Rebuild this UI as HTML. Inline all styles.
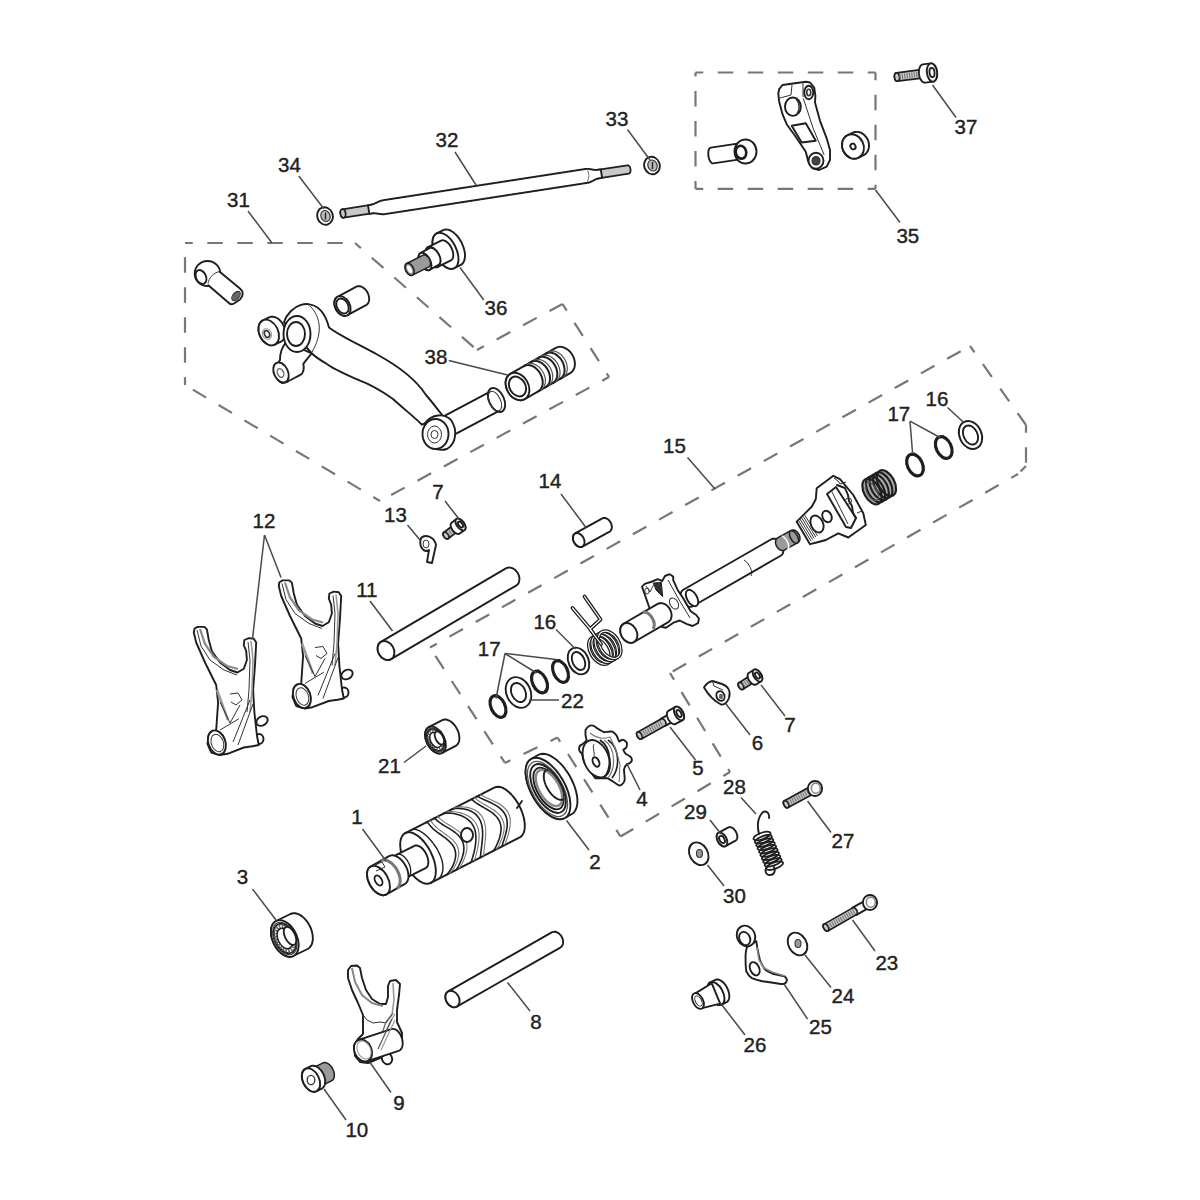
<!DOCTYPE html><html><head><meta charset="utf-8"><style>
html,body{margin:0;padding:0;background:#fff;}
svg{display:block;}
text{font-family:"Liberation Sans",sans-serif;font-size:20.5px;fill:#222;stroke:#222;stroke-width:0.4px;text-anchor:middle;}
.p{fill:#fff;stroke:#1e1e1e;stroke-width:1.9;stroke-linejoin:round;}
.l{fill:none;stroke:#1e1e1e;stroke-width:1.9;stroke-linejoin:round;stroke-linecap:round;}
.t{fill:none;stroke:#333;stroke-width:1;}
.g{fill:#9a9a9a;stroke:#1e1e1e;stroke-width:1.5;}
.g2{fill:#c8c8c8;stroke:#1e1e1e;stroke-width:1.7;}
.ld{stroke:#4a4a4a;stroke-width:1.5;}
.dash{stroke:#777;stroke-width:2.2;stroke-dasharray:15.5 14.5;stroke-dashoffset:7.7;}
</style></head><body><svg width="1200" height="1200" viewBox="0 0 1200 1200">
<line x1="695.5" y1="72.5" x2="875.5" y2="72.5" class="dash"/>
<line x1="875.5" y1="72.5" x2="875.5" y2="188.8" class="dash"/>
<line x1="875.5" y1="188.8" x2="695.5" y2="188.8" class="dash"/>
<line x1="695.5" y1="188.8" x2="695.5" y2="72.5" class="dash"/>
<line x1="185" y1="243" x2="355" y2="243" class="dash"/>
<line x1="355" y1="243" x2="477" y2="350" class="dash"/>
<line x1="477" y1="350" x2="562.5" y2="304" class="dash"/>
<line x1="562.5" y1="304" x2="609" y2="377" class="dash"/>
<line x1="609" y1="377" x2="380" y2="501" class="dash"/>
<line x1="380" y1="501" x2="185" y2="385" class="dash"/>
<line x1="185" y1="385" x2="185" y2="243" class="dash"/>
<line x1="430" y1="647.5" x2="970" y2="346" class="dash"/>
<line x1="970" y1="346" x2="1026" y2="425" class="dash"/>
<line x1="1026" y1="425" x2="1026" y2="466" class="dash"/>
<line x1="1026" y1="466" x2="1018" y2="474" class="dash"/>
<line x1="1018" y1="474" x2="670" y2="673" class="dash"/>
<line x1="670" y1="673" x2="730" y2="772" class="dash"/>
<line x1="730" y1="772" x2="620.5" y2="836.5" class="dash"/>
<line x1="620.5" y1="836.5" x2="557.5" y2="737.5" class="dash"/>
<line x1="557.5" y1="737.5" x2="505" y2="763" class="dash"/>
<line x1="505" y1="763" x2="430" y2="647.5" class="dash"/>
<ellipse cx="325" cy="216" rx="7.8" ry="8.8" transform="rotate(-20 325 216)" class="p"/>
<ellipse cx="325.5" cy="216" rx="4.6" ry="5.6" transform="rotate(-20 325.5 216)" fill="#bbb" stroke="#333" stroke-width="1.2"/>
<line x1="325.5" y1="212.5" x2="325.5" y2="219.5" stroke="#222" stroke-width="1.4"/>
<ellipse cx="652" cy="165.5" rx="7.8" ry="8.8" transform="rotate(-20 652 165.5)" class="p"/>
<ellipse cx="652.5" cy="165.5" rx="4.6" ry="5.6" transform="rotate(-20 652.5 165.5)" fill="#bbb" stroke="#333" stroke-width="1.2"/>
<line x1="652.5" y1="162.0" x2="652.5" y2="169.0" stroke="#222" stroke-width="1.4"/>
<polygon points="343.7,217.7 373.3,213.2 373.6,213.1 373.9,212.9 374.2,212.7 374.5,212.4 374.7,212.1 374.9,211.6 375.1,211.2 375.2,210.7 375.3,210.2 375.3,209.6 375.3,209.1 375.2,208.5 375.1,208 374.9,207.4 374.8,206.9 374.5,206.5 374.3,206 374,205.6 373.7,205.3 373.4,205 373,204.8 372.7,204.7 372.3,204.7 372,204.7 342.3,209.3 342,209.3 341.7,209.5 341.4,209.7 341.2,210 340.9,210.4 340.7,210.8 340.6,211.2 340.5,211.7 340.4,212.2 340.4,212.8 340.4,213.3 340.5,213.9 340.6,214.4 340.7,215 340.9,215.5 341.1,216 341.4,216.4 341.7,216.8 342,217.1 342.3,217.4 342.6,217.6 343,217.7 343.3,217.8 343.7,217.7" class="g2"/>
<ellipse cx="343" cy="213.5" rx="2.6" ry="4.3" transform="rotate(-8.8 343 213.5)" class="g2"/>
<polygon points="597,178.6 628.7,173.7 629,173.7 629.3,173.5 629.6,173.3 629.8,173 630.1,172.6 630.3,172.2 630.4,171.8 630.5,171.3 630.6,170.8 630.6,170.2 630.6,169.7 630.5,169.1 630.4,168.6 630.3,168 630.1,167.5 629.9,167 629.6,166.6 629.3,166.2 629,165.9 628.7,165.6 628.4,165.4 628,165.3 627.7,165.2 627.3,165.3 595.7,170.1 595.4,170.2 595.1,170.4 594.8,170.6 594.5,170.9 594.3,171.3 594.1,171.7 594,172.1 593.8,172.6 593.8,173.1 593.7,173.7 593.8,174.2 593.8,174.8 593.9,175.3 594.1,175.9 594.3,176.4 594.5,176.8 594.8,177.3 595,177.7 595.3,178 595.7,178.3 596,178.5 596.3,178.6 596.7,178.6 597,178.6" class="g2"/>
<polygon points="368,205.3 368.5,205.2 369,205.1 369.5,205.1 370,205 370.5,204.9 371,204.8 371.5,204.7 372,204.5 372.5,204.4 372.9,204.2 373.4,204.1 373.9,203.9 374.4,203.7 374.8,203.5 375.3,203.2 375.8,203 376.3,202.8 376.7,202.6 377.2,202.4 377.7,202.1 378.1,201.9 378.6,201.7 379.1,201.5 379.6,201.3 380,201.1 380.5,200.9 381,200.8 381.5,200.6 382,200.5 382.5,200.4 382.9,200.3 383.4,200.2 383.9,200.1 384.4,200 384.9,199.9 385.4,199.9 385.9,199.8 386.4,199.7 386.9,199.6 387.4,199.6 387.9,199.5 388.4,199.4 388.9,199.3 389.4,199.3 389.9,199.2 390.4,199.1 390.9,199 391.3,199 391.8,198.9 392.3,198.8 392.8,198.7 393.3,198.6 393.8,198.6 394.3,198.5 394.8,198.4 395.3,198.3 395.8,198.3 396.3,198.2 396.8,198.1 397.3,198 397.8,198 398.3,197.9 398.8,197.8 399.3,197.7 399.7,197.7 400.2,197.6 400.7,197.5 401.2,197.4 401.7,197.4 402.2,197.3 402.7,197.2 403.2,197.1 403.7,197 404.2,197 404.7,196.9 405.2,196.8 405.7,196.7 406.2,196.7 406.7,196.6 407.2,196.5 407.7,196.4 408.1,196.4 408.6,196.3 409.1,196.2 409.6,196.1 410.1,196.1 410.6,196 411.1,195.9 411.6,195.8 412.1,195.7 412.6,195.7 413.1,195.6 413.6,195.5 414.1,195.4 414.6,195.4 415.1,195.3 415.6,195.2 416.1,195.1 416.5,195.1 417,195 417.5,194.9 418,194.8 418.5,194.8 419,194.7 419.5,194.6 420,194.5 420.5,194.5 421,194.4 421.5,194.3 422,194.2 422.5,194.1 423,194.1 423.5,194 424,193.9 424.5,193.8 424.9,193.8 425.4,193.7 425.9,193.6 426.4,193.5 426.9,193.5 427.4,193.4 427.9,193.3 428.4,193.2 428.9,193.2 429.4,193.1 429.9,193 430.4,192.9 430.9,192.8 431.4,192.8 431.9,192.7 432.4,192.6 432.9,192.5 433.3,192.5 433.8,192.4 434.3,192.3 434.8,192.2 435.3,192.2 435.8,192.1 436.3,192 436.8,191.9 437.3,191.9 437.8,191.8 438.3,191.7 438.8,191.6 439.3,191.6 439.8,191.5 440.3,191.4 440.8,191.3 441.3,191.2 441.7,191.2 442.2,191.1 442.7,191 443.2,190.9 443.7,190.9 444.2,190.8 444.7,190.7 445.2,190.6 445.7,190.6 446.2,190.5 446.7,190.4 447.2,190.3 447.7,190.3 448.2,190.2 448.7,190.1 449.2,190 449.7,190 450.1,189.9 450.6,189.8 451.1,189.7 451.6,189.6 452.1,189.6 452.6,189.5 453.1,189.4 453.6,189.3 454.1,189.3 454.6,189.2 455.1,189.1 455.6,189 456.1,189 456.6,188.9 457.1,188.8 457.6,188.7 458.1,188.7 458.6,188.6 459,188.5 459.5,188.4 460,188.3 460.5,188.3 461,188.2 461.5,188.1 462,188 462.5,188 463,187.9 463.5,187.8 464,187.7 464.5,187.7 465,187.6 465.5,187.5 466,187.4 466.5,187.4 467,187.3 467.4,187.2 467.9,187.1 468.4,187.1 468.9,187 469.4,186.9 469.9,186.8 470.4,186.7 470.9,186.7 471.4,186.6 471.9,186.5 472.4,186.4 472.9,186.4 473.4,186.3 473.9,186.2 474.4,186.1 474.9,186.1 475.4,186 475.8,185.9 476.3,185.8 476.8,185.8 477.3,185.7 477.8,185.6 478.3,185.5 478.8,185.4 479.3,185.4 479.8,185.3 480.3,185.2 480.8,185.1 481.3,185.1 481.8,185 482.3,184.9 482.8,184.8 483.3,184.8 483.8,184.7 484.2,184.6 484.7,184.5 485.2,184.5 485.7,184.4 486.2,184.3 486.7,184.2 487.2,184.2 487.7,184.1 488.2,184 488.7,183.9 489.2,183.8 489.7,183.8 490.2,183.7 490.7,183.6 491.2,183.5 491.7,183.5 492.2,183.4 492.6,183.3 493.1,183.2 493.6,183.2 494.1,183.1 494.6,183 495.1,182.9 495.6,182.9 496.1,182.8 496.6,182.7 497.1,182.6 497.6,182.6 498.1,182.5 498.6,182.4 499.1,182.3 499.6,182.2 500.1,182.2 500.6,182.1 501,182 501.5,181.9 502,181.9 502.5,181.8 503,181.7 503.5,181.6 504,181.6 504.5,181.5 505,181.4 505.5,181.3 506,181.3 506.5,181.2 507,181.1 507.5,181 508,180.9 508.5,180.9 509,180.8 509.4,180.7 509.9,180.6 510.4,180.6 510.9,180.5 511.4,180.4 511.9,180.3 512.4,180.3 512.9,180.2 513.4,180.1 513.9,180 514.4,180 514.9,179.9 515.4,179.8 515.9,179.7 516.4,179.7 516.9,179.6 517.4,179.5 517.8,179.4 518.3,179.3 518.8,179.3 519.3,179.2 519.8,179.1 520.3,179 520.8,179 521.3,178.9 521.8,178.8 522.3,178.7 522.8,178.7 523.3,178.6 523.8,178.5 524.3,178.4 524.8,178.4 525.3,178.3 525.8,178.2 526.2,178.1 526.7,178 527.2,178 527.7,177.9 528.2,177.8 528.7,177.7 529.2,177.7 529.7,177.6 530.2,177.5 530.7,177.4 531.2,177.4 531.7,177.3 532.2,177.2 532.7,177.1 533.2,177.1 533.7,177 534.2,176.9 534.6,176.8 535.1,176.8 535.6,176.7 536.1,176.6 536.6,176.5 537.1,176.4 537.6,176.4 538.1,176.3 538.6,176.2 539.1,176.1 539.6,176.1 540.1,176 540.6,175.9 541.1,175.8 541.6,175.8 542.1,175.7 542.6,175.6 543,175.5 543.5,175.5 544,175.4 544.5,175.3 545,175.2 545.5,175.2 546,175.1 546.5,175 547,174.9 547.5,174.8 548,174.8 548.5,174.7 549,174.6 549.5,174.5 550,174.5 550.5,174.4 551,174.3 551.4,174.2 551.9,174.2 552.4,174.1 552.9,174 553.4,173.9 553.9,173.9 554.4,173.8 554.9,173.7 555.4,173.6 555.9,173.5 556.4,173.5 556.9,173.4 557.4,173.3 557.9,173.2 558.4,173.2 558.9,173.1 559.4,173 559.9,172.9 560.3,172.9 560.8,172.8 561.3,172.7 561.8,172.6 562.3,172.6 562.8,172.5 563.3,172.4 563.8,172.3 564.3,172.3 564.8,172.2 565.3,172.1 565.8,172 566.3,171.9 566.8,171.9 567.3,171.8 567.8,171.7 568.3,171.6 568.7,171.6 569.2,171.5 569.7,171.4 570.2,171.3 570.7,171.3 571.2,171.2 571.7,171.1 572.2,171 572.7,171 573.2,170.9 573.7,170.8 574.2,170.7 574.7,170.6 575.2,170.6 575.7,170.5 576.2,170.4 576.7,170.3 577.1,170.3 577.6,170.2 578.1,170.1 578.6,170 579.1,170 579.6,169.9 580.1,169.8 580.6,169.7 581.1,169.7 581.6,169.6 582.1,169.5 582.6,169.4 583.1,169.4 583.6,169.3 584.1,169.2 584.6,169.1 585.1,169 585.5,169 586,168.9 586.5,168.9 587,168.9 587.6,168.9 588.1,168.9 588.6,168.9 589.1,169 589.6,169.1 590.1,169.1 590.6,169.2 591.2,169.3 591.7,169.4 592.2,169.5 592.7,169.6 593.2,169.7 593.8,169.8 594.3,169.9 594.8,169.9 595.3,169.9 595.8,170 596.3,170 596.8,169.9 597.3,169.9 597.8,169.8 598.3,169.7 598.8,169.7 599.3,169.6 599.8,169.5 600.3,169.4 600.8,169.4 602.1,177.9 601.6,177.9 601.1,178 600.6,178.1 600.1,178.2 599.6,178.2 599.1,178.3 598.6,178.4 598.1,178.5 597.7,178.6 597.2,178.8 596.7,178.9 596.2,179.1 595.7,179.3 595.3,179.5 594.8,179.8 594.3,180 593.9,180.3 593.4,180.5 592.9,180.8 592.5,181 592,181.3 591.5,181.5 591.1,181.7 590.6,181.9 590.1,182.1 589.6,182.3 589.1,182.5 588.7,182.6 588.2,182.7 587.7,182.8 587.2,182.9 586.7,183 586.2,183 585.7,183.1 585.2,183.2 584.7,183.3 584.2,183.3 583.7,183.4 583.2,183.5 582.7,183.6 582.2,183.6 581.8,183.7 581.3,183.8 580.8,183.9 580.3,184 579.8,184 579.3,184.1 578.8,184.2 578.3,184.3 577.8,184.3 577.3,184.4 576.8,184.5 576.3,184.6 575.8,184.6 575.3,184.7 574.8,184.8 574.3,184.9 573.8,184.9 573.4,185 572.9,185.1 572.4,185.2 571.9,185.2 571.4,185.3 570.9,185.4 570.4,185.5 569.9,185.6 569.4,185.6 568.9,185.7 568.4,185.8 567.9,185.9 567.4,185.9 566.9,186 566.4,186.1 565.9,186.2 565.4,186.2 565,186.3 564.5,186.4 564,186.5 563.5,186.5 563,186.6 562.5,186.7 562,186.8 561.5,186.9 561,186.9 560.5,187 560,187.1 559.5,187.2 559,187.2 558.5,187.3 558,187.4 557.5,187.5 557,187.5 556.6,187.6 556.1,187.7 555.6,187.8 555.1,187.8 554.6,187.9 554.1,188 553.6,188.1 553.1,188.1 552.6,188.2 552.1,188.3 551.6,188.4 551.1,188.5 550.6,188.5 550.1,188.6 549.6,188.7 549.1,188.8 548.6,188.8 548.2,188.9 547.7,189 547.2,189.1 546.7,189.1 546.2,189.2 545.7,189.3 545.2,189.4 544.7,189.4 544.2,189.5 543.7,189.6 543.2,189.7 542.7,189.7 542.2,189.8 541.7,189.9 541.2,190 540.7,190.1 540.2,190.1 539.7,190.2 539.3,190.3 538.8,190.4 538.3,190.4 537.8,190.5 537.3,190.6 536.8,190.7 536.3,190.7 535.8,190.8 535.3,190.9 534.8,191 534.3,191 533.8,191.1 533.3,191.2 532.8,191.3 532.3,191.4 531.8,191.4 531.3,191.5 530.9,191.6 530.4,191.7 529.9,191.7 529.4,191.8 528.9,191.9 528.4,192 527.9,192 527.4,192.1 526.9,192.2 526.4,192.3 525.9,192.3 525.4,192.4 524.9,192.5 524.4,192.6 523.9,192.6 523.4,192.7 522.9,192.8 522.5,192.9 522,193 521.5,193 521,193.1 520.5,193.2 520,193.3 519.5,193.3 519,193.4 518.5,193.5 518,193.6 517.5,193.6 517,193.7 516.5,193.8 516,193.9 515.5,193.9 515,194 514.5,194.1 514.1,194.2 513.6,194.3 513.1,194.3 512.6,194.4 512.1,194.5 511.6,194.6 511.1,194.6 510.6,194.7 510.1,194.8 509.6,194.9 509.1,194.9 508.6,195 508.1,195.1 507.6,195.2 507.1,195.2 506.6,195.3 506.1,195.4 505.7,195.5 505.2,195.5 504.7,195.6 504.2,195.7 503.7,195.8 503.2,195.9 502.7,195.9 502.2,196 501.7,196.1 501.2,196.2 500.7,196.2 500.2,196.3 499.7,196.4 499.2,196.5 498.7,196.5 498.2,196.6 497.7,196.7 497.3,196.8 496.8,196.8 496.3,196.9 495.8,197 495.3,197.1 494.8,197.1 494.3,197.2 493.8,197.3 493.3,197.4 492.8,197.5 492.3,197.5 491.8,197.6 491.3,197.7 490.8,197.8 490.3,197.8 489.8,197.9 489.3,198 488.9,198.1 488.4,198.1 487.9,198.2 487.4,198.3 486.9,198.4 486.4,198.4 485.9,198.5 485.4,198.6 484.9,198.7 484.4,198.8 483.9,198.8 483.4,198.9 482.9,199 482.4,199.1 481.9,199.1 481.4,199.2 480.9,199.3 480.5,199.4 480,199.4 479.5,199.5 479,199.6 478.5,199.7 478,199.7 477.5,199.8 477,199.9 476.5,200 476,200 475.5,200.1 475,200.2 474.5,200.3 474,200.4 473.5,200.4 473,200.5 472.5,200.6 472.1,200.7 471.6,200.7 471.1,200.8 470.6,200.9 470.1,201 469.6,201 469.1,201.1 468.6,201.2 468.1,201.3 467.6,201.3 467.1,201.4 466.6,201.5 466.1,201.6 465.6,201.7 465.1,201.7 464.6,201.8 464.1,201.9 463.7,202 463.2,202 462.7,202.1 462.2,202.2 461.7,202.3 461.2,202.3 460.7,202.4 460.2,202.5 459.7,202.6 459.2,202.6 458.7,202.7 458.2,202.8 457.7,202.9 457.2,202.9 456.7,203 456.2,203.1 455.7,203.2 455.3,203.3 454.8,203.3 454.3,203.4 453.8,203.5 453.3,203.6 452.8,203.6 452.3,203.7 451.8,203.8 451.3,203.9 450.8,203.9 450.3,204 449.8,204.1 449.3,204.2 448.8,204.2 448.3,204.3 447.8,204.4 447.3,204.5 446.9,204.5 446.4,204.6 445.9,204.7 445.4,204.8 444.9,204.9 444.4,204.9 443.9,205 443.4,205.1 442.9,205.2 442.4,205.2 441.9,205.3 441.4,205.4 440.9,205.5 440.4,205.5 439.9,205.6 439.4,205.7 438.9,205.8 438.4,205.8 438,205.9 437.5,206 437,206.1 436.5,206.2 436,206.2 435.5,206.3 435,206.4 434.5,206.5 434,206.5 433.5,206.6 433,206.7 432.5,206.8 432,206.8 431.5,206.9 431,207 430.5,207.1 430,207.1 429.6,207.2 429.1,207.3 428.6,207.4 428.1,207.4 427.6,207.5 427.1,207.6 426.6,207.7 426.1,207.8 425.6,207.8 425.1,207.9 424.6,208 424.1,208.1 423.6,208.1 423.1,208.2 422.6,208.3 422.1,208.4 421.6,208.4 421.2,208.5 420.7,208.6 420.2,208.7 419.7,208.7 419.2,208.8 418.7,208.9 418.2,209 417.7,209.1 417.2,209.1 416.7,209.2 416.2,209.3 415.7,209.4 415.2,209.4 414.7,209.5 414.2,209.6 413.7,209.7 413.2,209.7 412.8,209.8 412.3,209.9 411.8,210 411.3,210 410.8,210.1 410.3,210.2 409.8,210.3 409.3,210.3 408.8,210.4 408.3,210.5 407.8,210.6 407.3,210.7 406.8,210.7 406.3,210.8 405.8,210.9 405.3,211 404.8,211 404.4,211.1 403.9,211.2 403.4,211.3 402.9,211.3 402.4,211.4 401.9,211.5 401.4,211.6 400.9,211.6 400.4,211.7 399.9,211.8 399.4,211.9 398.9,211.9 398.4,212 397.9,212.1 397.4,212.2 396.9,212.3 396.4,212.3 396,212.4 395.5,212.5 395,212.6 394.5,212.6 394,212.7 393.5,212.8 393,212.9 392.5,212.9 392,213 391.5,213.1 391,213.2 390.5,213.2 390,213.3 389.5,213.4 389,213.5 388.5,213.6 388,213.6 387.6,213.7 387.1,213.8 386.6,213.9 386.1,213.9 385.6,214 385.1,214.1 384.6,214.1 384.1,214.2 383.6,214.2 383.1,214.2 382.6,214.2 382.1,214.2 381.5,214.1 381,214.1 380.5,214 380,214 379.5,213.9 379,213.8 378.5,213.7 377.9,213.7 377.4,213.6 376.9,213.5 376.4,213.5 375.9,213.4 375.4,213.4 374.8,213.3 374.3,213.3 373.8,213.3 373.3,213.3 372.8,213.3 372.3,213.4 371.8,213.4 371.3,213.5 370.8,213.6 370.3,213.6 369.8,213.7 369.4,213.8" class="p"/>
<path d="M587.5,169.2 q3,6 0,13" class="t" style="stroke:#777"/>
<polygon points="740.8,143.1 710.8,147.6 710.4,147.7 709.9,148 709.5,148.4 709.2,148.9 708.9,149.5 708.6,150.3 708.5,151.1 708.3,152 708.3,153 708.3,154 708.3,155 708.4,156 708.6,157.1 708.9,158.1 709.2,159 709.5,159.9 709.9,160.7 710.3,161.5 710.8,162.1 711.2,162.6 711.7,163 712.2,163.3 712.7,163.4 713.2,163.4 743.2,158.9 743.6,158.8 744.1,158.5 744.5,158.1 744.8,157.6 745.1,157 745.4,156.2 745.5,155.4 745.7,154.5 745.7,153.5 745.7,152.5 745.7,151.5 745.6,150.5 745.4,149.4 745.1,148.4 744.8,147.5 744.5,146.6 744.1,145.8 743.7,145 743.2,144.4 742.8,143.9 742.3,143.5 741.8,143.2 741.3,143.1 740.8,143.1" class="p"/>
<ellipse cx="745.5" cy="151.5" rx="11" ry="12" class="p"/>
<ellipse cx="741" cy="152.2" rx="5.2" ry="6.5" transform="rotate(-15 741 152.2)" fill="#fff" stroke="#1e1e1e" stroke-width="2.6"/>
<polygon points="779.2,89.2 782.5,85 805.8,81.7 810,82.5 814.2,87.5 815.4,95.8 815,102.5 820,120.8 826.7,138.3 830,150 830,160 826.7,166.7 819.2,170 812.5,168.3 808.3,161.7 805.8,151.7 795,135.8 786.7,124.2 782.5,114.2 779.2,101.7 778.3,93.3" class="p"/>
<ellipse cx="792.9" cy="106.7" rx="7.9" ry="9.2" class="p"/>
<path d="M796,99 C800,103 800,110 797,114" class="t" style="stroke-width:1.5"/>
<ellipse cx="808.75" cy="92.5" rx="4.5" ry="6.7" class="p"/>
<ellipse cx="808.75" cy="92.5" rx="2" ry="3.2" class="t" style="stroke-width:1.6"/>
<polygon points="791.7,125.8 805.8,123.3 815.8,140.8 801.7,142.5" class="p"/>
<polyline points="803.3,98.3 813,128 824.2,155" class="t"/>
<polyline points="780,98 791,95 792,85" class="t"/>
<polyline points="803,82 803,97" class="t"/>
<ellipse cx="816" cy="160.8" rx="7.5" ry="8" class="p"/>
<ellipse cx="816" cy="160.8" rx="4" ry="4.2" fill="#444" stroke="#1e1e1e" stroke-width="1"/>
<polygon points="858.6,157.7 863.6,155.2 864.8,154.5 865.9,153.6 866.8,152.5 867.6,151.3 868.2,150 868.7,148.5 868.9,147 869,145.5 868.9,143.9 868.6,142.3 868.2,140.7 867.5,139.2 866.7,137.8 865.7,136.5 864.6,135.3 863.4,134.3 862.1,133.4 860.8,132.7 859.4,132.2 857.9,131.9 856.5,131.9 855.1,132 853.7,132.3 852.4,132.8 847.4,135.3 846.2,136 845.1,136.9 844.2,138 843.4,139.2 842.8,140.5 842.3,142 842.1,143.5 842,145 842.1,146.6 842.4,148.2 842.8,149.8 843.5,151.3 844.3,152.7 845.3,154 846.4,155.2 847.6,156.2 848.9,157.1 850.2,157.8 851.6,158.3 853.1,158.6 854.5,158.6 855.9,158.5 857.3,158.2 858.6,157.7" class="p"/>
<ellipse cx="853" cy="146.5" rx="10.6" ry="12.5" transform="rotate(-26.6 853 146.5)" class="p" />
<ellipse cx="853" cy="146.5" rx="2.5" ry="3" transform="rotate(-26.6 853 146.5)" class="p" />
<polygon points="897.5,81.2 928,77.3 928.3,77.2 928.6,77 928.9,76.8 929.2,76.5 929.4,76.2 929.6,75.8 929.7,75.4 929.9,74.9 930,74.4 930,73.9 930,73.3 929.9,72.8 929.8,72.2 929.7,71.7 929.5,71.2 929.3,70.7 929.1,70.3 928.8,69.9 928.5,69.6 928.2,69.3 927.9,69.1 927.6,69 927.2,68.9 926.9,68.9 896.5,72.8 896.1,72.9 895.8,73.1 895.5,73.3 895.3,73.6 895.1,73.9 894.9,74.3 894.7,74.7 894.6,75.2 894.5,75.7 894.4,76.2 894.5,76.8 894.5,77.3 894.6,77.9 894.7,78.4 894.9,78.9 895.1,79.4 895.3,79.8 895.6,80.2 895.9,80.5 896.2,80.8 896.5,81 896.9,81.1 897.2,81.2 897.5,81.2" class="g2"/>
<ellipse cx="897" cy="77" rx="2.5" ry="4.2" transform="rotate(-7.3 897 77)" class="g2" />
<line x1="899.5" y1="76.7" x2="926.9" y2="73.2" stroke="#777" stroke-width="5.5" stroke-dasharray="1.1 1.3"/>
<polygon points="930.8,63.4 922.9,64.4 922.2,64.6 921.6,64.9 921.1,65.3 920.5,65.9 920.1,66.7 919.7,67.5 919.4,68.5 919.1,69.5 919,70.6 918.9,71.8 918.9,73 919,74.2 919.2,75.4 919.5,76.5 919.9,77.6 920.3,78.6 920.8,79.6 921.3,80.4 921.9,81.2 922.6,81.7 923.2,82.2 923.9,82.5 924.6,82.7 925.2,82.6 933.2,81.6 933.8,81.5 934.4,81.1 935,80.7 935.5,80.1 936,79.3 936.4,78.5 936.7,77.5 936.9,76.5 937.1,75.4 937.2,74.2 937.1,73.1 937,71.9 936.8,70.7 936.5,69.5 936.2,68.4 935.8,67.4 935.3,66.4 934.7,65.6 934.1,64.9 933.5,64.3 932.8,63.8 932.2,63.5 931.5,63.4 930.8,63.4" class="p"/>
<ellipse cx="932" cy="72.5" rx="5.1" ry="9.2" transform="rotate(172.7 932 72.5)" class="p" />
<ellipse cx="932" cy="72.5" rx="2.5" ry="4.6" transform="rotate(172.7 932 72.5)" class="p" />
<ellipse cx="207.5" cy="273.5" rx="12.8" ry="12.5" class="p"/>
<path d="M219.7,271.8 L240.5,289 C244,292 243,296 240,299.5 L234,303.5 C232,304.5 230.5,304.5 229.5,303.5 L208.3,285.3 C212,281 215,276 219.7,271.8 Z" fill="#fff"/>
<path d="M219.7,271.8 L240.5,289 C244,292 243,296 240,299.5 L234,303.5 C232,304.5 230.5,304.5 229.5,303.5 L208.3,285.3" class="l"/>
<ellipse cx="236" cy="296" rx="3.2" ry="5.5" transform="rotate(40 236 296)" fill="#666" stroke="#333" stroke-width="1"/>
<ellipse cx="201" cy="277" rx="5" ry="7.3" transform="rotate(-25 201 277)" class="p"/>
<path d="M208,283.5 C209,278 213,273 219.5,271.5" class="t"/>
<polygon points="347.5,315.2 366,305.2 366.8,304.7 367.5,304 368.1,303.2 368.6,302.3 368.9,301.2 369.1,300.1 369.2,298.9 369.1,297.6 368.9,296.3 368.5,295 368.1,293.7 367.5,292.5 366.8,291.3 366,290.2 365.1,289.2 364.1,288.4 363.1,287.6 362,287 361,286.5 359.9,286.3 358.9,286.1 357.9,286.2 356.9,286.4 356,286.8 337.5,296.8 336.7,297.3 336,298 335.4,298.8 334.9,299.7 334.6,300.8 334.4,301.9 334.3,303.1 334.4,304.4 334.6,305.7 335,307 335.4,308.3 336,309.5 336.7,310.7 337.5,311.8 338.4,312.8 339.4,313.6 340.4,314.4 341.5,315 342.5,315.5 343.6,315.7 344.6,315.9 345.6,315.8 346.6,315.6 347.5,315.2" class="p"/>
<ellipse cx="342.5" cy="306" rx="7.3" ry="10.5" transform="rotate(-28.4 342.5 306)" class="p" />
<ellipse cx="342.5" cy="306" rx="5.6" ry="8" transform="rotate(-28.4 342.5 306)" class="p" />
<polygon points="454.3,268.2 460.8,264.9 462,264.1 463,263 463.8,261.7 464.4,260.1 464.8,258.3 465,256.4 465,254.2 464.7,252 464.2,249.7 463.5,247.3 462.6,245 461.6,242.6 460.3,240.4 459,238.3 457.5,236.4 455.9,234.6 454.2,233.1 452.5,231.8 450.8,230.7 449.1,230 447.5,229.6 445.9,229.4 444.5,229.6 443.2,230.1 436.7,233.4 435.5,234.2 434.5,235.3 433.7,236.6 433.1,238.2 432.7,240 432.5,241.9 432.5,244.1 432.8,246.3 433.3,248.6 434,251 434.9,253.3 435.9,255.7 437.2,257.9 438.5,260 440,261.9 441.6,263.7 443.3,265.2 445,266.5 446.7,267.6 448.4,268.3 450,268.7 451.6,268.9 453,268.7 454.3,268.2" class="p"/>
<ellipse cx="445.5" cy="250.8" rx="10.7" ry="19.5" transform="rotate(-26.9 445.5 250.8)" class="p" />
<polygon points="437.9,266.8 450.9,260.3 451.6,259.9 452.2,259.3 452.6,258.6 453,257.7 453.2,256.7 453.3,255.5 453.3,254.3 453.1,253.1 452.9,251.8 452.5,250.4 452,249.1 451.4,247.8 450.7,246.5 450,245.3 449.1,244.2 448.2,243.2 447.3,242.4 446.3,241.6 445.4,241 444.4,240.6 443.5,240.4 442.6,240.3 441.8,240.4 441.1,240.7 428.1,247.2 427.4,247.6 426.8,248.2 426.4,248.9 426,249.8 425.8,250.8 425.7,252 425.7,253.2 425.9,254.4 426.1,255.7 426.5,257.1 427,258.4 427.6,259.7 428.3,261 429,262.2 429.9,263.3 430.8,264.3 431.7,265.1 432.7,265.9 433.6,266.5 434.6,266.9 435.5,267.1 436.4,267.2 437.2,267.1 437.9,266.8" class="p"/>
<ellipse cx="433" cy="257" rx="6.1" ry="11" transform="rotate(-26.6 433 257)" class="p" />
<polygon points="429.6,269.8 438.6,264.8 439.2,264.4 439.6,263.9 440,263.2 440.3,262.4 440.4,261.5 440.5,260.6 440.4,259.5 440.3,258.5 440,257.3 439.6,256.2 439.1,255.1 438.6,254 437.9,252.9 437.2,251.9 436.5,251 435.6,250.2 434.8,249.4 434,248.8 433.1,248.4 432.3,248 431.5,247.9 430.7,247.8 430,247.9 429.4,248.2 420.4,253.2 419.8,253.6 419.4,254.1 419,254.8 418.7,255.6 418.6,256.5 418.5,257.4 418.6,258.5 418.7,259.5 419,260.7 419.4,261.8 419.9,262.9 420.4,264 421.1,265.1 421.8,266.1 422.5,267 423.4,267.8 424.2,268.6 425,269.2 425.9,269.6 426.7,270 427.5,270.1 428.3,270.2 429,270.1 429.6,269.8" class="p"/>
<ellipse cx="425" cy="261.5" rx="5.2" ry="9.5" transform="rotate(-29.1 425 261.5)" class="p" />
<polygon points="412.5,275.1 428.9,266.8 429.4,266.5 429.7,266.1 430,265.7 430.3,265.1 430.4,264.5 430.5,263.9 430.5,263.1 430.5,262.4 430.3,261.6 430.1,260.8 429.8,260 429.5,259.2 429.1,258.5 428.6,257.8 428.1,257.2 427.5,256.6 427,256.1 426.4,255.7 425.8,255.3 425.2,255.1 424.6,255 424.1,254.9 423.5,255 423.1,255.2 406.7,263.5 406.2,263.8 405.9,264.2 405.6,264.6 405.3,265.2 405.2,265.8 405.1,266.4 405.1,267.2 405.1,267.9 405.3,268.7 405.5,269.5 405.8,270.3 406.1,271.1 406.5,271.8 407,272.5 407.5,273.1 408.1,273.7 408.6,274.2 409.2,274.6 409.8,275 410.4,275.2 411,275.3 411.5,275.4 412.1,275.3 412.5,275.1" class="g"/>
<ellipse cx="409.6" cy="269.3" rx="3.9" ry="6.5" transform="rotate(-26.8 409.6 269.3)" class="g" />
<ellipse cx="409.6" cy="269.3" rx="2" ry="4" transform="rotate(-27 409.6 269.3)" fill="#fff"/>
<polygon points="524.7,399.1 570.2,373.1 571.4,372.3 572.4,371.3 573.3,370.1 574,368.7 574.5,367.2 574.8,365.6 574.9,363.9 574.8,362.1 574.5,360.3 574,358.5 573.3,356.8 572.4,355.1 571.4,353.5 570.3,352 569,350.7 567.6,349.5 566.1,348.6 564.6,347.8 563,347.2 561.5,346.9 560,346.8 558.5,346.9 557.1,347.3 555.8,347.9 510.3,373.9 509.1,374.7 508.1,375.7 507.2,376.9 506.5,378.3 506,379.8 505.7,381.4 505.6,383.1 505.7,384.9 506,386.7 506.5,388.5 507.2,390.2 508.1,391.9 509.1,393.5 510.2,395 511.5,396.3 512.9,397.5 514.4,398.4 515.9,399.2 517.5,399.8 519,400.1 520.5,400.2 522,400.1 523.4,399.7 524.7,399.1" class="p"/>
<ellipse cx="517.5" cy="386.5" rx="10.9" ry="14.5" transform="rotate(-29.7 517.5 386.5)" class="p" />
<ellipse cx="517.5" cy="386.5" rx="7.9" ry="10.5" transform="rotate(-29.7 517.5 386.5)" class="p" />
<polyline points="538.3,391.3 539.3,390.7 540.1,389.9 540.8,389.1 541.4,388.1 541.9,387 542.3,385.8 542.6,384.6 542.7,383.3 542.7,381.9 542.6,380.5 542.4,379.1 542,377.7 541.5,376.3 540.9,374.9 540.2,373.5 539.4,372.2 538.5,371 537.5,369.9 536.5,368.8 535.4,367.9 534.3,367.1 533.1,366.4 531.9,365.9 530.7,365.5 529.5,365.2 528.3,365.1 527.1,365.1 526,365.3 524.9,365.6 524,366.1" class="l" style="stroke-width:2"/>
<polyline points="541.1,389.7 542,389.1 542.8,388.4 543.5,387.5 544.1,386.5 544.6,385.5 545,384.3 545.3,383 545.4,381.7 545.4,380.3 545.3,378.9 545.1,377.5 544.7,376.1 544.2,374.7 543.6,373.3 542.9,372 542.1,370.7 541.3,369.5 540.3,368.3 539.2,367.3 538.1,366.4 537,365.5 535.8,364.9 534.6,364.3 533.4,363.9 532.2,363.6 531,363.5 529.8,363.6 528.7,363.7 527.7,364.1 526.7,364.6" class="t" style="stroke-width:1.2;stroke:#555"/>
<polyline points="545.6,387.1 546.5,386.5 547.4,385.8 548.1,384.9 548.7,383.9 549.2,382.9 549.6,381.7 549.8,380.4 550,379.1 550,377.7 549.9,376.3 549.6,374.9 549.3,373.5 548.8,372.1 548.2,370.7 547.5,369.4 546.7,368.1 545.8,366.9 544.8,365.7 543.8,364.7 542.7,363.8 541.5,362.9 540.4,362.3 539.1,361.7 537.9,361.3 536.7,361 535.5,360.9 534.4,361 533.3,361.1 532.2,361.5 531.2,362" class="l" style="stroke-width:2"/>
<polyline points="548.4,385.6 549.3,385 550.1,384.2 550.8,383.4 551.4,382.4 551.9,381.3 552.3,380.1 552.6,378.9 552.7,377.6 552.7,376.2 552.6,374.8 552.4,373.4 552,371.9 551.5,370.5 550.9,369.1 550.2,367.8 549.4,366.5 548.5,365.3 547.6,364.2 546.5,363.1 545.4,362.2 544.3,361.4 543.1,360.7 541.9,360.2 540.7,359.8 539.5,359.5 538.3,359.4 537.1,359.4 536,359.6 535,359.9 534,360.4" class="t" style="stroke-width:1.2;stroke:#555"/>
<polyline points="552.9,383 553.8,382.4 554.6,381.6 555.4,380.8 556,379.8 556.5,378.7 556.9,377.5 557.1,376.3 557.3,375 557.3,373.6 557.2,372.2 556.9,370.8 556.6,369.3 556.1,367.9 555.5,366.5 554.8,365.2 554,363.9 553.1,362.7 552.1,361.6 551.1,360.5 550,359.6 548.8,358.8 547.6,358.1 546.4,357.6 545.2,357.2 544,356.9 542.8,356.8 541.7,356.8 540.6,357 539.5,357.3 538.5,357.8" class="l" style="stroke-width:2"/>
<polyline points="555.6,381.4 556.5,380.8 557.4,380.1 558.1,379.2 558.7,378.2 559.2,377.1 559.6,376 559.9,374.7 560,373.4 560,372 559.9,370.6 559.6,369.2 559.3,367.8 558.8,366.4 558.2,365 557.5,363.6 556.7,362.4 555.8,361.1 554.8,360 553.8,359 552.7,358 551.5,357.2 550.4,356.5 549.2,356 547.9,355.6 546.7,355.3 545.6,355.2 544.4,355.2 543.3,355.4 542.2,355.8 541.2,356.2" class="t" style="stroke-width:1.2;stroke:#555"/>
<polyline points="560.2,378.8 561.1,378.2 561.9,377.5 562.6,376.6 563.2,375.6 563.8,374.5 564.1,373.4 564.4,372.1 564.5,370.8 564.6,369.4 564.4,368 564.2,366.6 563.8,365.2 563.4,363.8 562.8,362.4 562.1,361 561.3,359.8 560.4,358.5 559.4,357.4 558.3,356.4 557.2,355.4 556.1,354.6 554.9,353.9 553.7,353.4 552.5,353 551.3,352.7 550.1,352.6 548.9,352.6 547.8,352.8 546.8,353.2 545.8,353.6" class="l" style="stroke-width:2"/>
<polyline points="562.9,377.2 563.8,376.6 564.6,375.9 565.4,375 566,374.1 566.5,373 566.9,371.8 567.1,370.5 567.3,369.2 567.3,367.9 567.2,366.5 566.9,365 566.6,363.6 566.1,362.2 565.5,360.8 564.8,359.5 564,358.2 563.1,357 562.1,355.8 561.1,354.8 560,353.9 558.8,353.1 557.6,352.4 556.4,351.8 555.2,351.4 554,351.2 552.8,351.1 551.7,351.1 550.6,351.3 549.5,351.6 548.5,352.1" class="t" style="stroke-width:1.2;stroke:#555"/>
<polygon points="274.7,344.7 280.9,341.7 281.9,341 282.9,340.2 283.7,339.2 284.3,338 284.8,336.6 285.2,335.2 285.3,333.6 285.3,332 285.1,330.3 284.7,328.7 284.2,327 283.5,325.4 282.7,323.8 281.7,322.4 280.6,321 279.4,319.9 278.2,318.8 276.9,318 275.5,317.4 274.2,316.9 272.8,316.7 271.5,316.7 270.3,316.9 269.1,317.3 262.9,320.3 261.9,321 260.9,321.8 260.1,322.8 259.5,324 259,325.4 258.6,326.8 258.5,328.4 258.5,330 258.7,331.7 259.1,333.3 259.6,335 260.3,336.6 261.1,338.2 262.1,339.6 263.2,341 264.4,342.1 265.6,343.2 266.9,344 268.3,344.6 269.6,345.1 271,345.3 272.3,345.3 273.5,345.1 274.7,344.7" class="p"/>
<ellipse cx="268.8" cy="332.5" rx="9.4" ry="13.5" transform="rotate(-25.8 268.8 332.5)" class="p" />
<ellipse cx="267" cy="334" rx="2.5" ry="3.5" transform="rotate(-25 267 334)" class="t" style="stroke-width:1.6"/>
<ellipse cx="267" cy="334" rx="4.5" ry="5.5" transform="rotate(-25 267 334)" fill="none" stroke="#999" stroke-width="1"/>
<path d="M286,342 C282,348 280,352 280,360 L276,366 C274,372 276,380 282,383 L287,382 C292,379 297,377 301.7,374 C304,371 304,367 303.3,364 C306,360 309,357 311.7,353.3 Z" class="p"/>
<ellipse cx="281" cy="372.5" rx="7" ry="10.5" transform="rotate(-25 281 372.5)" class="p"/>
<ellipse cx="280.5" cy="373" rx="3" ry="4.5" transform="rotate(-25 280.5 373)" class="t" style="stroke:#666;stroke-width:1.4"/>
<path d="M284,322 C286,316 288,314 291,311 C297,305 305,303 310.5,304.6 C318,306 325,312 329,327.5 C340,336 360,345 378,355 C398,366 415,378 426,395 C433,403 438,410 442.5,415.5 L422,424.7 C412,415 405,410 393,399 C380,390 372,385 360,380.7 C345,374 333,369 327,364 C320,360 314,356 310.5,352 Z" class="p"/>
<ellipse cx="297" cy="334" rx="13.5" ry="18" class="p"/>
<ellipse cx="296" cy="334" rx="9" ry="12" class="p"/>
<path d="M310,306 C322,318 322,335 312,352" class="t"/>
<polygon points="492.1,390.7 443.1,416.7 442.4,417.2 441.8,417.8 441.3,418.6 440.9,419.5 440.6,420.5 440.5,421.6 440.4,422.8 440.6,424 440.8,425.3 441.2,426.5 441.7,427.8 442.2,429.1 442.9,430.2 443.7,431.3 444.6,432.4 445.5,433.3 446.4,434.1 447.4,434.7 448.4,435.2 449.4,435.6 450.3,435.7 451.3,435.7 452.1,435.6 452.9,435.3 501.9,409.3 502.6,408.8 503.2,408.2 503.7,407.4 504.1,406.5 504.4,405.5 504.5,404.4 504.6,403.2 504.4,402 504.2,400.7 503.8,399.5 503.3,398.2 502.8,396.9 502.1,395.8 501.3,394.7 500.4,393.6 499.5,392.7 498.6,391.9 497.6,391.3 496.6,390.8 495.6,390.4 494.7,390.3 493.7,390.3 492.9,390.4 492.1,390.7" class="p"/>
<ellipse cx="496.5" cy="400" rx="7.5" ry="12.8" transform="rotate(-25 496.5 400)" class="p"/>
<ellipse cx="495" cy="401" rx="5.5" ry="10.5" transform="rotate(-25 495 401)" class="t"/>
<path d="M425,423 C432,414 444,413 451,420 C458,430 456,444 447,449 C437,452 426,446 424,436 Z" class="p"/>
<ellipse cx="435.5" cy="434" rx="13" ry="15" class="p"/>
<ellipse cx="434.5" cy="434.5" rx="7" ry="8.5" class="t"/>
<ellipse cx="434.5" cy="434.5" rx="3.5" ry="4" class="t"/>
<polygon points="448.3,538.5 460.1,529.6 460.3,529.4 460.5,529.1 460.6,528.8 460.7,528.5 460.7,528.1 460.7,527.7 460.6,527.3 460.5,526.9 460.3,526.4 460.1,526 459.9,525.6 459.6,525.2 459.3,524.8 459,524.4 458.6,524.1 458.2,523.8 457.8,523.6 457.5,523.4 457.1,523.3 456.7,523.2 456.4,523.2 456,523.3 455.8,523.4 455.5,523.5 443.7,532.5 443.5,532.7 443.3,532.9 443.2,533.2 443.1,533.6 443.1,533.9 443.1,534.3 443.2,534.8 443.3,535.2 443.4,535.6 443.7,536 443.9,536.5 444.2,536.9 444.5,537.3 444.8,537.6 445.2,537.9 445.6,538.2 446,538.4 446.3,538.6 446.7,538.7 447.1,538.8 447.4,538.8 447.7,538.8 448,538.7 448.3,538.5" class="g2"/>
<ellipse cx="446" cy="535.5" rx="2.3" ry="3.8" transform="rotate(-37.2 446 535.5)" class="g2" />
<line x1="448" y1="534" x2="457.4" y2="526.9" stroke="#777" stroke-width="4.9" stroke-dasharray="1.1 1.3"/>
<polygon points="456.4,519.1 451.6,522.7 451.3,523.1 451,523.5 450.8,524 450.7,524.6 450.6,525.2 450.7,525.9 450.9,526.6 451.1,527.4 451.4,528.1 451.8,528.9 452.2,529.7 452.7,530.4 453.3,531.1 453.9,531.7 454.5,532.3 455.2,532.8 455.9,533.2 456.5,533.6 457.2,533.8 457.8,533.9 458.4,534 458.9,533.9 459.4,533.8 459.8,533.5 464.6,529.9 465,529.6 465.2,529.1 465.4,528.6 465.5,528.1 465.6,527.4 465.5,526.7 465.4,526 465.1,525.3 464.8,524.5 464.4,523.7 464,523 463.5,522.2 462.9,521.6 462.3,520.9 461.7,520.3 461,519.8 460.4,519.4 459.7,519.1 459.1,518.8 458.4,518.7 457.8,518.6 457.3,518.7 456.8,518.8 456.4,519.1" class="p"/>
<ellipse cx="460.5" cy="524.5" rx="3.7" ry="6.8" transform="rotate(142.8 460.5 524.5)" class="p" />
<ellipse cx="460.5" cy="524.5" rx="1.9" ry="3.4" transform="rotate(142.8 460.5 524.5)" class="p" />
<path d="M421,538 C425,534 434,536 436,545 L432,563 L427,562 L429,550 C425,553 418,548 421,538 Z" class="p"/>
<ellipse cx="426" cy="544" rx="3" ry="4" class="t"/>
<polygon points="582.4,546.6 609.6,531.6 610.2,531.2 610.7,530.7 611.1,530.1 611.4,529.4 611.7,528.7 611.8,527.9 611.9,527 611.8,526.1 611.6,525.2 611.4,524.3 611,523.3 610.6,522.5 610.1,521.6 609.5,520.9 608.9,520.1 608.2,519.5 607.4,519 606.7,518.6 605.9,518.2 605.2,518 604.4,518 603.7,518 603,518.2 602.4,518.4 575.1,533.4 574.6,533.8 574.1,534.3 573.6,534.9 573.3,535.6 573.1,536.3 572.9,537.1 572.9,538 573,538.9 573.1,539.8 573.4,540.7 573.7,541.7 574.2,542.5 574.7,543.4 575.2,544.1 575.9,544.9 576.6,545.5 577.3,546 578.1,546.4 578.8,546.8 579.6,547 580.3,547 581.1,547 581.7,546.8 582.4,546.6" class="p"/>
<ellipse cx="578.8" cy="540" rx="5.2" ry="7.5" transform="rotate(-28.8 578.8 540)" class="p" />
<polygon points="391.1,659.1 516.1,585.6 516.9,585 517.6,584.3 518.3,583.5 518.8,582.5 519.1,581.4 519.3,580.3 519.4,579.1 519.4,577.9 519.2,576.6 518.8,575.4 518.3,574.2 517.7,573 517,572 516.2,571 515.3,570 514.3,569.3 513.2,568.6 512.2,568.1 511.1,567.8 510,567.6 508.9,567.5 507.8,567.7 506.9,567.9 505.9,568.4 380.9,641.9 380.1,642.5 379.4,643.2 378.7,644 378.2,645 377.9,646.1 377.7,647.2 377.6,648.4 377.6,649.6 377.8,650.9 378.2,652.1 378.7,653.3 379.3,654.5 380,655.5 380.8,656.5 381.7,657.5 382.7,658.2 383.8,658.9 384.8,659.4 385.9,659.7 387,659.9 388.1,660 389.2,659.8 390.1,659.6 391.1,659.1" class="p"/>
<ellipse cx="386" cy="650.5" rx="7.8" ry="10" transform="rotate(-30.5 386 650.5)" class="p" />
<polygon points="456.8,1006.6 560.3,947.6 561,947.1 561.6,946.5 562.1,945.7 562.6,944.9 562.9,944 563.1,943.1 563.1,942 563.1,941 562.9,939.9 562.6,938.8 562.2,937.8 561.7,936.8 561.1,935.8 560.4,934.9 559.6,934.1 558.8,933.4 557.9,932.8 557,932.4 556,932 555.1,931.8 554.2,931.8 553.3,931.9 552.5,932.1 551.7,932.4 448.2,991.4 447.5,991.9 446.9,992.5 446.4,993.3 445.9,994.1 445.6,995 445.4,995.9 445.4,997 445.4,998 445.6,999.1 445.9,1000.2 446.3,1001.2 446.8,1002.2 447.4,1003.2 448.1,1004.1 448.9,1004.9 449.7,1005.6 450.6,1006.2 451.5,1006.6 452.5,1007 453.4,1007.2 454.3,1007.2 455.2,1007.1 456,1006.9 456.8,1006.6" class="p"/>
<ellipse cx="452.5" cy="999" rx="6.5" ry="8.7" transform="rotate(-29.7 452.5 999)" class="p" />
<ellipse cx="262" cy="721" rx="6" ry="4.5" transform="rotate(-30 262 721)" class="p"/>
<ellipse cx="259" cy="739" rx="4.5" ry="5" class="p"/>
<polygon points="194.4,628.8 197.5,626.9 204.4,626.9 206.9,629.4 208.8,640 211.9,651.2 220,662.5 230,670 237.5,672.5 243.8,668.8 246.9,660 246.2,651.2 243.8,645 244.4,640 248.8,638.1 253.8,638.8 256.2,642.5 255,665 253.1,690 254.4,712.5 257,736 258.8,745 252.5,746.2 243.8,747.5 227.5,753.8 220,755 211.2,752.5 207.5,743.8 208.8,735 216.2,730 218.1,702.5 216.2,685 205,662.5 196.2,642.5 193.8,632.5" class="p"/>
<polyline points="197,630 201,646 210,660 224,670 237,675" class="t"/>
<polyline points="200,629 205,644 214,657 227,666 238,669" class="x" fill="none" stroke="#888" stroke-width="2.2"/>
<polyline points="248,642 250,660 249,690 247,712" class="t"/>
<polyline points="251,641 253,660 252,690 250,712" class="x" fill="none" stroke="#999" stroke-width="1.6"/>
<polyline points="217,690 228,720" class="x" fill="none" stroke="#999" stroke-width="2.5"/>
<polyline points="233,742 250,700" class="t"/>
<polyline points="238,745 253,704" class="t"/>
<polyline points="220,702 230,723 240,705" class="t"/>
<polyline points="230,694 238,693 242,700 236,705 231,702" class="t"/>
<ellipse cx="216.9" cy="742.5" rx="8.5" ry="12.5" transform="rotate(-20 216.9 742.5)" class="p"/>
<ellipse cx="217.4" cy="743" rx="6" ry="9" transform="rotate(-20 217.4 743)" class="t"/>
<polyline points="220,730 238.8,718.8" class="t"/>
<ellipse cx="347" cy="674.5" rx="6" ry="4.5" transform="rotate(-30 347 674.5)" class="p"/>
<ellipse cx="344" cy="692.5" rx="4.5" ry="5" class="p"/>
<polygon points="279.4,582.2 282.5,580.4 289.4,580.4 291.9,582.9 293.8,593.5 296.9,604.8 305,616 315,623.5 322.5,626 328.8,622.2 331.9,613.5 331.2,604.8 328.8,598.5 329.4,593.5 333.8,591.6 338.8,592.2 341.2,596 340,618.5 338.1,643.5 339.4,666 342,689.5 343.8,698.5 337.5,699.8 328.8,701 312.5,707.2 305,708.5 296.2,706 292.5,697.2 293.8,688.5 301.2,683.5 303.1,656 301.2,638.5 290,616 281.2,596 278.8,586" class="p"/>
<polyline points="282,583.5 286,599.5 295,613.5 309,623.5 322,628.5" class="t"/>
<polyline points="285,582.5 290,597.5 299,610.5 312,619.5 323,622.5" class="x" fill="none" stroke="#888" stroke-width="2.2"/>
<polyline points="333,595.5 335,613.5 334,643.5 332,665.5" class="t"/>
<polyline points="336,594.5 338,613.5 337,643.5 335,665.5" class="x" fill="none" stroke="#999" stroke-width="1.6"/>
<polyline points="302,643.5 313,673.5" class="x" fill="none" stroke="#999" stroke-width="2.5"/>
<polyline points="318,695.5 335,653.5" class="t"/>
<polyline points="323,698.5 338,657.5" class="t"/>
<polyline points="305,655.5 315,676.5 325,658.5" class="t"/>
<polyline points="315,647.5 323,646.5 327,653.5 321,658.5 316,655.5" class="t"/>
<ellipse cx="301.9" cy="696" rx="8.5" ry="12.5" transform="rotate(-20 301.9 696)" class="p"/>
<ellipse cx="302.4" cy="696.5" rx="6" ry="9" transform="rotate(-20 302.4 696.5)" class="t"/>
<polyline points="305,683.5 323.8,672.2" class="t"/>
<ellipse cx="387" cy="1058.5" rx="5" ry="6" transform="rotate(-25 387 1058.5)" class="p"/>
<polygon points="348,970 351,966 357,965.5 360,968 362,978 366,990 372,999 380,1004 386,1004 388,997 388,986 390,981 396,980 400,984 399,995 397,1010 397,1022 402,1033 402,1042 380,1058 368,1063 360,1062 355,1056 354,1046 358,1039 363,1034 363,1015 358,1003 352,990 348,978" class="p"/>
<polyline points="352,968 355,982 362,995 372,1003 383,1006" class="x" fill="none" stroke="#888" stroke-width="2"/>
<polyline points="393,983 394,1000 392,1015" class="x" fill="none" stroke="#999" stroke-width="1.6"/>
<polyline points="363,1015 367,1020 373,1023 380,1022 386,1023 392,1015" class="t"/>
<polyline points="377,1047 386,1022 393,1013" class="x" fill="none" stroke="#666" stroke-width="1.3"/>
<polyline points="380,1047 389,1024 395,1014" class="x" fill="none" stroke="#999" stroke-width="1.3"/>
<polygon points="366.6,1061.4 398.6,1050.9 399.4,1050.5 400.2,1050 400.9,1049.2 401.5,1048.4 402,1047.3 402.3,1046.2 402.6,1044.9 402.7,1043.5 402.6,1042.1 402.5,1040.7 402.2,1039.2 401.8,1037.8 401.2,1036.4 400.6,1035 399.9,1033.8 399.1,1032.6 398.2,1031.6 397.3,1030.7 396.3,1030 395.3,1029.4 394.3,1029.1 393.3,1028.9 392.3,1028.9 391.4,1029.1 359.4,1039.6 358.6,1040 357.8,1040.5 357.1,1041.3 356.5,1042.1 356,1043.2 355.7,1044.3 355.4,1045.6 355.3,1047 355.4,1048.4 355.5,1049.8 355.8,1051.3 356.2,1052.7 356.8,1054.1 357.4,1055.5 358.1,1056.7 358.9,1057.9 359.8,1058.9 360.7,1059.8 361.7,1060.5 362.7,1061.1 363.7,1061.4 364.7,1061.6 365.7,1061.6 366.6,1061.4" class="p"/>
<polyline points="378,1049 392,1019" class="x" fill="none" stroke="#555" stroke-width="1.2"/>
<polyline points="381,1050 395,1020" class="x" fill="none" stroke="#999" stroke-width="1.2"/>
<ellipse cx="363" cy="1050.5" rx="8.5" ry="11.5" transform="rotate(-25 363 1050.5)" class="p"/>
<ellipse cx="364" cy="1050" rx="6.5" ry="9.5" transform="rotate(-25 364 1050)" fill="none" stroke="#999" stroke-width="1.1"/>
<polygon points="692.7,606.2 780.7,555.7 781.4,555.2 782.1,554.6 782.6,553.8 783,553 783.3,552 783.4,551 783.5,549.9 783.4,548.8 783.1,547.6 782.8,546.4 782.3,545.3 781.8,544.2 781.1,543.1 780.3,542.2 779.5,541.3 778.6,540.5 777.7,539.9 776.7,539.3 775.8,538.9 774.8,538.7 773.8,538.6 772.9,538.7 772.1,538.9 771.3,539.3 683.3,589.8 682.6,590.3 681.9,590.9 681.4,591.7 681,592.5 680.7,593.5 680.6,594.5 680.5,595.6 680.6,596.7 680.9,597.9 681.2,599.1 681.7,600.2 682.2,601.3 682.9,602.4 683.7,603.3 684.5,604.2 685.4,605 686.3,605.6 687.3,606.2 688.2,606.6 689.2,606.8 690.2,606.9 691.1,606.8 691.9,606.6 692.7,606.2" class="p"/>
<path d="M744,560 a5,10 -30 0 1 7,16" class="t"/>
<polygon points="784.4,550.1 797.9,542.6 798.4,542.3 798.9,541.8 799.3,541.2 799.6,540.6 799.8,539.9 799.9,539.1 800,538.3 799.9,537.5 799.8,536.6 799.5,535.8 799.2,534.9 798.8,534.1 798.3,533.3 797.8,532.6 797.2,532 796.5,531.4 795.8,530.9 795.1,530.5 794.4,530.2 793.7,530 793,529.9 792.3,530 791.7,530.1 791.1,530.4 777.6,537.9 777.1,538.2 776.6,538.7 776.2,539.3 775.9,539.9 775.7,540.6 775.6,541.4 775.5,542.2 775.6,543 775.7,543.9 776,544.7 776.3,545.6 776.7,546.4 777.2,547.2 777.7,547.9 778.3,548.5 779,549.1 779.7,549.6 780.4,550 781.1,550.3 781.8,550.5 782.5,550.6 783.2,550.5 783.8,550.4 784.4,550.1" class="g"/>
<path d="M782,536 a4,8 -30 0 1 5,14" stroke="#fff" stroke-width="1.6" fill="none"/>
<ellipse cx="794" cy="537" rx="3.5" ry="7" transform="rotate(-30 794 537)" class="g"/>
<polygon points="642,586.6 644.8,583.8 652.2,581.5 657.7,579.2 662.2,581 665,576 669.6,574.2 673.2,576.5 673.2,580.2 677.8,590.2 683.3,598.5 690.7,611.3 696.2,615 699,618.7 698,623.2 692.5,626 687,624.2 679.7,620.5 674.2,622.3 666,627.8 662.2,627 660.4,625 649.4,607.7" class="p"/>
<ellipse cx="674" cy="603.5" rx="4" ry="6" transform="rotate(-30 674 603.5)" class="t"/>
<polygon points="653.5,583 661.3,582.5 662.7,596.7 656,590" class="x" fill="#333" stroke="#1e1e1e" stroke-width="1"/>
<polyline points="646,586 650,592 654,584" class="t"/>
<ellipse cx="647" cy="591" rx="2.2" ry="3" class="t"/>
<polyline points="668,580 678,598 690,618" class="t"/>
<ellipse cx="692" cy="598" rx="5" ry="9" transform="rotate(-30 692 598)" class="p"/>
<polygon points="634.1,642 668.3,622.1 669.1,621.5 669.9,620.7 670.5,619.9 671,618.9 671.3,617.8 671.5,616.6 671.6,615.4 671.5,614.1 671.3,612.8 670.9,611.5 670.4,610.3 669.8,609 669.1,607.9 668.2,606.8 667.3,605.9 666.3,605 665.2,604.3 664.1,603.8 663,603.4 661.8,603.2 660.7,603.1 659.7,603.2 658.7,603.5 657.7,603.9 623.5,623.8 622.7,624.4 621.9,625.2 621.3,626 620.8,627 620.5,628.1 620.3,629.3 620.2,630.5 620.3,631.8 620.5,633.1 620.9,634.4 621.4,635.6 622,636.9 622.7,638 623.6,639.1 624.5,640 625.5,640.9 626.6,641.6 627.7,642.1 628.8,642.5 630,642.7 631.1,642.8 632.1,642.7 633.1,642.4 634.1,642" class="p"/>
<ellipse cx="628.8" cy="632.9" rx="7.9" ry="10.5" transform="rotate(-30.2 628.8 632.9)" class="p" />
<path d="M643,612 a7.5,10.5 -30 0 1 10,17" stroke="#777" stroke-width="3" fill="none"/>
<polygon points="796.7,521.7 805,513.3 811.7,506.7 815.8,499.2 816.7,488.3 833.3,475.8 840,479.2 853.3,495 863.3,513.3 865.8,525 848.3,537.5 838.3,533.3 825.8,540 816.7,542.5 810,544.2" class="p"/>
<line x1="798.5" y1="520.5" x2="811" y2="541" class="t"/>
<line x1="800.1" y1="519.2" x2="812.6" y2="539.7" class="t"/>
<line x1="801.7" y1="517.9" x2="814.2" y2="538.4" class="t"/>
<line x1="803.3" y1="516.6" x2="815.8" y2="537.1" class="t"/>
<line x1="804.9" y1="515.3" x2="817.4" y2="535.8" class="t"/>
<ellipse cx="817" cy="524" rx="6" ry="9" transform="rotate(-25 817 524)" class="l"/>
<ellipse cx="827" cy="516.5" rx="4.5" ry="6" transform="rotate(-25 827 516.5)" class="l"/>
<polygon points="827,494 836,487 856,518 851,528 846,527" class="l"/>
<polyline points="831,490 848,524" class="t"/>
<polyline points="837,485 845,488 848,495 849,501 852,506 853,513 856,518" class="l"/>
<ellipse cx="848.5" cy="501" rx="3" ry="3" class="t"/>
<polyline points="834,478 838,481 840,484" class="t"/>
<polyline points="840,484 846,482" class="t"/>
<polyline points="857,513 862,511" class="t"/>
<polygon points="879.1,503.6 893.5,495.2 894.3,494.6 895,493.7 895.6,492.7 896,491.6 896.2,490.2 896.3,488.8 896.2,487.3 895.9,485.7 895.5,484 894.9,482.3 894.2,480.7 893.3,479.1 892.3,477.5 891.2,476.1 890.1,474.8 888.8,473.6 887.6,472.5 886.3,471.7 885,471.1 883.7,470.6 882.5,470.4 881.4,470.4 880.3,470.6 879.3,471 864.9,479.4 864.1,480 863.4,480.9 862.8,481.9 862.4,483 862.2,484.4 862.1,485.8 862.2,487.3 862.5,488.9 862.9,490.6 863.5,492.3 864.2,493.9 865.1,495.5 866.1,497.1 867.2,498.5 868.3,499.8 869.6,501 870.8,502.1 872.1,502.9 873.4,503.5 874.7,504 875.9,504.2 877,504.2 878.1,504 879.1,503.6" class="x" fill="#aaa" stroke="none"/>
<ellipse cx="872" cy="491.5" rx="8" ry="14" transform="rotate(-30.3 872 491.5)" class="x" fill="#aaa" stroke="none" />
<ellipse cx="872" cy="491.5" rx="8" ry="14" transform="rotate(-28 872 491.5)" fill="none" stroke="#1e1e1e" stroke-width="2.2"/>
<ellipse cx="875.6" cy="489.4" rx="8" ry="14" transform="rotate(-28 875.6 489.4)" fill="none" stroke="#1e1e1e" stroke-width="2.2"/>
<ellipse cx="879.2" cy="487.3" rx="8" ry="14" transform="rotate(-28 879.2 487.3)" fill="none" stroke="#1e1e1e" stroke-width="2.2"/>
<ellipse cx="882.8" cy="485.2" rx="8" ry="14" transform="rotate(-28 882.8 485.2)" fill="none" stroke="#1e1e1e" stroke-width="2.2"/>
<ellipse cx="886.4" cy="483.1" rx="8" ry="14" transform="rotate(-28 886.4 483.1)" fill="none" stroke="#1e1e1e" stroke-width="2.2"/>
<ellipse cx="872" cy="491.5" rx="5" ry="10" transform="rotate(-28 872 491.5)" fill="none" stroke="#555" stroke-width="1.2"/>
<ellipse cx="915" cy="465" rx="7.5" ry="11.5" transform="rotate(-25 915 465)" fill="none" stroke="#1e1e1e" stroke-width="3.2"/>
<path d="M911,455 l3,-1.5 l2,3" fill="none" stroke="#1e1e1e" stroke-width="2"/>
<ellipse cx="943.75" cy="447.5" rx="7.5" ry="11.5" transform="rotate(-25 943.75 447.5)" fill="none" stroke="#1e1e1e" stroke-width="3.2"/>
<path d="M939.8,437.5 l3,-1.5 l2,3" fill="none" stroke="#1e1e1e" stroke-width="2"/>
<ellipse cx="970.5" cy="435" rx="11" ry="14.5" transform="rotate(-25 970.5 435)" class="p"/>
<ellipse cx="970.5" cy="435" rx="7" ry="10" transform="rotate(-25 970.5 435)" class="p"/>
<ellipse cx="498" cy="706.5" rx="7" ry="11.5" transform="rotate(-25 498 706.5)" fill="none" stroke="#1e1e1e" stroke-width="3.2"/>
<path d="M494,696.5 l3,-1.5 l2,3" fill="none" stroke="#1e1e1e" stroke-width="2"/>
<ellipse cx="539.5" cy="682" rx="7" ry="11.5" transform="rotate(-25 539.5 682)" fill="none" stroke="#1e1e1e" stroke-width="3.2"/>
<path d="M535.5,672 l3,-1.5 l2,3" fill="none" stroke="#1e1e1e" stroke-width="2"/>
<ellipse cx="560.5" cy="671.5" rx="7" ry="11.5" transform="rotate(-25 560.5 671.5)" fill="none" stroke="#1e1e1e" stroke-width="3.2"/>
<path d="M556.5,661.5 l3,-1.5 l2,3" fill="none" stroke="#1e1e1e" stroke-width="2"/>
<ellipse cx="518.5" cy="692.5" rx="12" ry="16" transform="rotate(-25 518.5 692.5)" class="p"/>
<ellipse cx="518.5" cy="692.5" rx="7" ry="10" transform="rotate(-25 518.5 692.5)" class="p"/>
<ellipse cx="578.5" cy="661" rx="10" ry="14" transform="rotate(-25 578.5 661)" class="p"/>
<ellipse cx="578.5" cy="661" rx="6" ry="9.5" transform="rotate(-25 578.5 661)" class="p"/>
<ellipse cx="600" cy="650.5" rx="9.5" ry="15" transform="rotate(-32 600 650.5)" fill="none" stroke="#1e1e1e" stroke-width="3.6"/>
<ellipse cx="600" cy="650.5" rx="9.5" ry="15" transform="rotate(-32 600 650.5)" fill="none" stroke="#fff" stroke-width="1.1"/>
<ellipse cx="603.2" cy="648.6" rx="9.5" ry="15" transform="rotate(-32 603.2 648.6)" fill="none" stroke="#1e1e1e" stroke-width="3.6"/>
<ellipse cx="603.2" cy="648.6" rx="9.5" ry="15" transform="rotate(-32 603.2 648.6)" fill="none" stroke="#fff" stroke-width="1.1"/>
<ellipse cx="606.4" cy="646.7" rx="9.5" ry="15" transform="rotate(-32 606.4 646.7)" fill="none" stroke="#1e1e1e" stroke-width="3.6"/>
<ellipse cx="606.4" cy="646.7" rx="9.5" ry="15" transform="rotate(-32 606.4 646.7)" fill="none" stroke="#fff" stroke-width="1.1"/>
<ellipse cx="609.6" cy="644.8" rx="9.5" ry="15" transform="rotate(-32 609.6 644.8)" fill="none" stroke="#1e1e1e" stroke-width="3.6"/>
<ellipse cx="609.6" cy="644.8" rx="9.5" ry="15" transform="rotate(-32 609.6 644.8)" fill="none" stroke="#fff" stroke-width="1.1"/>
<polyline points="572.5,608 589,627.5 593,633" fill="none" stroke="#1e1e1e" stroke-width="3.8" stroke-linejoin="round" stroke-linecap="round"/>
<polyline points="584.5,596.5 600.5,619.5 590,629 601,644" fill="none" stroke="#1e1e1e" stroke-width="3.8" stroke-linejoin="round" stroke-linecap="round"/>
<polyline points="572.5,608 589,627.5 593,633" fill="none" stroke="#fff" stroke-width="1.2" stroke-linejoin="round" stroke-linecap="round"/>
<polyline points="584.5,596.5 600.5,619.5 590,629 601,644" fill="none" stroke="#fff" stroke-width="1.2" stroke-linejoin="round" stroke-linecap="round"/>
<polygon points="442.2,752.9 455.7,745.9 456.7,745.2 457.5,744.4 458.2,743.3 458.8,742.1 459.2,740.7 459.4,739.2 459.4,737.6 459.2,735.9 458.9,734.1 458.4,732.3 457.8,730.6 457,728.9 456,727.2 455,725.7 453.8,724.3 452.6,723 451.3,721.9 449.9,721 448.6,720.3 447.2,719.8 445.9,719.5 444.6,719.5 443.4,719.7 442.3,720.1 428.8,727.1 427.8,727.8 427,728.6 426.3,729.7 425.7,730.9 425.3,732.3 425.1,733.8 425.1,735.4 425.3,737.1 425.6,738.9 426.1,740.7 426.7,742.4 427.5,744.1 428.5,745.8 429.5,747.3 430.7,748.7 431.9,750 433.2,751.1 434.6,752 435.9,752.7 437.3,753.2 438.6,753.5 439.9,753.5 441.1,753.3 442.2,752.9" class="p"/>
<ellipse cx="435.5" cy="740" rx="9" ry="14.5" transform="rotate(-27.4 435.5 740)" class="p" />
<ellipse cx="435.5" cy="740" rx="7.9" ry="12.8" transform="rotate(-27.4 435.5 740)" class="t" />
<ellipse cx="435.5" cy="740" rx="7.2" ry="11.6" transform="rotate(-27.4 435.5 740)" class="p" />
<ellipse cx="435.5" cy="740" rx="6.1" ry="9.9" transform="rotate(-27.4 435.5 740)" class="x" fill="none" stroke="#666" stroke-width="2.9" stroke-dasharray="1.6 1.4"/>
<ellipse cx="435.5" cy="740" rx="5" ry="8.1" transform="rotate(-27.4 435.5 740)" class="x" fill="none" stroke="#1e1e1e" stroke-width="1.5"/>
<ellipse cx="439.4" cy="738" rx="3.8" ry="7.2" transform="rotate(-27.4 439.4 738)" class="x" fill="#fff" stroke="#1e1e1e" stroke-width="1.8"/>
<polygon points="293.3,956 307.6,949 308.9,948.2 310.1,947 311.1,945.6 311.9,944 312.4,942.1 312.8,940.1 312.8,937.9 312.7,935.6 312.3,933.3 311.7,930.9 310.9,928.5 309.9,926.2 308.6,923.9 307.3,921.8 305.7,919.9 304.1,918.1 302.4,916.6 300.6,915.4 298.8,914.4 297,913.7 295.2,913.3 293.5,913.2 291.9,913.5 290.4,914 276.2,921 274.8,921.8 273.6,923 272.7,924.4 271.9,926 271.3,927.9 271,929.9 270.9,932.1 271.1,934.4 271.4,936.7 272,939.1 272.9,941.5 273.9,943.8 275.1,946.1 276.5,948.2 278,950.1 279.7,951.9 281.4,953.4 283.2,954.6 285,955.6 286.8,956.3 288.5,956.7 290.2,956.8 291.9,956.5 293.3,956" class="p"/>
<ellipse cx="284.8" cy="938.5" rx="12.1" ry="19.5" transform="rotate(-26.2 284.8 938.5)" class="p" />
<ellipse cx="284.8" cy="938.5" rx="10.6" ry="17.2" transform="rotate(-26.2 284.8 938.5)" class="t" />
<ellipse cx="284.8" cy="938.5" rx="9.7" ry="15.6" transform="rotate(-26.2 284.8 938.5)" class="p" />
<ellipse cx="284.8" cy="938.5" rx="8.2" ry="13.3" transform="rotate(-26.2 284.8 938.5)" class="x" fill="none" stroke="#666" stroke-width="3.9" stroke-dasharray="1.6 1.4"/>
<ellipse cx="284.8" cy="938.5" rx="6.8" ry="10.9" transform="rotate(-26.2 284.8 938.5)" class="x" fill="none" stroke="#1e1e1e" stroke-width="1.5"/>
<ellipse cx="290" cy="935.9" rx="5.1" ry="9.8" transform="rotate(-26.2 290 935.9)" class="x" fill="#fff" stroke="#1e1e1e" stroke-width="1.8"/>
<polygon points="430.7,882.9 519.7,837.4 521.3,836.4 522.5,834.9 523.5,833.1 524.3,830.9 524.7,828.4 524.8,825.6 524.6,822.6 524.2,819.4 523.4,816.2 522.3,812.8 521,809.4 519.5,806.1 517.7,802.9 515.7,799.9 513.6,797.1 511.4,794.5 509.1,792.3 506.8,790.4 504.5,788.8 502.2,787.7 500,787 497.9,786.8 496,787 494.3,787.6 405.3,833.1 403.7,834.1 402.5,835.6 401.5,837.4 400.7,839.6 400.3,842.1 400.2,844.9 400.4,847.9 400.8,851.1 401.6,854.3 402.7,857.7 404,861.1 405.5,864.4 407.3,867.6 409.3,870.6 411.4,873.4 413.6,876 415.9,878.2 418.2,880.1 420.5,881.7 422.8,882.8 425,883.5 427.1,883.7 429,883.5 430.7,882.9" class="p"/>
<polyline points="430.7,882.9 432,882.1 433.1,881.1 434,879.7 434.7,878.2 435.3,876.4 435.6,874.4 435.8,872.3 435.8,869.9 435.6,867.5 435.2,864.9 434.6,862.3 433.8,859.6 432.8,856.9 431.7,854.3 430.5,851.6 429.1,849.1 427.5,846.6 425.9,844.2 424.2,842 422.4,840 420.6,838.2 418.7,836.6 416.9,835.2 415,834.1 413.2,833.2 411.4,832.6 409.7,832.3 408.1,832.3 406.6,832.5 405.3,833.1" class="l" />
<polyline points="437,879.7 438.4,878.8 439.7,877.7 440.7,876.3 441.6,874.7 442.3,872.8 442.7,870.8 442.9,868.6 442.9,866.3 442.7,863.9 442.2,861.4 441.5,858.8 440.5,856.2 439.4,853.6 438.1,851 436.7,848.4 435.1,846 433.4,843.6 431.6,841.3 429.8,839.2 427.9,837.2 426,835.4 424.1,833.8 422.2,832.5 420.4,831.3 418.7,830.4 417,829.8 415.4,829.4 414,829.3 412.7,829.4 411.5,829.9" class="l" style="stroke-width:1.4"/>
<polyline points="445.8,875.2 446.7,874.6 447.8,873.5 449,872.1 450.2,870.2 451.6,868.1 452.9,865.6 454,863 454.9,860.2 455.5,857.3 455.7,854.4 455.4,851.7 454.7,849 453.5,846.4 451.8,844 449.8,841.8 447.4,839.7 444.9,837.7 442.4,835.8 439.9,834 437.5,832.3 435.3,830.7 433.4,829.1 431.9,827.5 430.5,826.1 429.5,824.9 428.7,823.8 427.9,823 427.3,822.5 426.6,822.3 425.8,822.6" class="l" style="stroke-width:1.6"/>
<polyline points="448.9,873.6 449.8,873 450.9,871.9 452.1,870.5 453.4,868.6 454.7,866.5 456,864 457.1,861.4 458,858.6 458.6,855.7 458.8,852.9 458.5,850.1 457.8,847.4 456.6,844.8 454.9,842.4 452.9,840.2 450.6,838.1 448.1,836.1 445.5,834.2 443,832.4 440.6,830.7 438.4,829.1 436.6,827.5 435,826 433.7,824.6 432.6,823.3 431.8,822.2 431,821.4 430.4,820.9 429.7,820.8 428.9,821" class="t" style="stroke:#777;stroke-width:1.1"/>
<polyline points="455.5,870.3 456.1,869.8 456.8,868.9 457.6,867.7 458.5,866 459.5,864 460.6,861.7 461.7,859 462.6,856.2 463.4,853.3 463.8,850.3 463.9,847.3 463.5,844.5 462.7,841.7 461.3,839.1 459.6,836.7 457.5,834.5 455.1,832.5 452.5,830.7 449.8,828.9 447.2,827.4 444.7,825.9 442.4,824.5 440.5,823.2 438.8,821.9 437.5,820.8 436.4,819.9 435.6,819.1 435,818.6 434.4,818.3 433.9,818.4" class="l" style="stroke-width:1.6"/>
<polyline points="458.6,868.7 459.2,868.2 459.9,867.4 460.7,866.1 461.6,864.4 462.6,862.4 463.7,860.1 464.8,857.4 465.7,854.6 466.5,851.7 466.9,848.7 467,845.7 466.6,842.9 465.8,840.1 464.5,837.5 462.7,835.1 460.6,832.9 458.2,830.9 455.6,829.1 452.9,827.4 450.3,825.8 447.8,824.3 445.5,822.9 443.6,821.6 441.9,820.3 440.6,819.2 439.5,818.3 438.7,817.5 438.1,817 437.5,816.7 437,816.8" class="t" style="stroke:#777;stroke-width:1.1"/>
<polyline points="470.4,862.6 470.9,862.3 471.3,861.5 471.7,860.5 472.1,859 472.7,857.3 473.2,855.2 473.9,852.8 474.5,850.2 475,847.3 475.5,844.3 475.8,841.2 476,838.1 475.8,835 475.4,831.9 474.6,829 473.5,826.3 472,823.8 470.2,821.6 468,819.6 465.6,817.9 463,816.5 460.3,815.3 457.5,814.5 454.7,813.8 452.1,813.3 449.6,813.1 447.4,813 445.6,813.2 444,813.4 442.9,813.8" class="l" style="stroke-width:1.6"/>
<polyline points="473.6,861 474,860.7 474.4,859.9 474.8,858.9 475.3,857.5 475.8,855.7 476.4,853.6 477,851.2 477.6,848.6 478.1,845.7 478.6,842.7 479,839.6 479.1,836.5 479,833.4 478.5,830.3 477.8,827.4 476.6,824.7 475.1,822.2 473.3,820 471.2,818 468.7,816.3 466.1,814.9 463.4,813.8 460.6,812.9 457.8,812.2 455.2,811.8 452.7,811.5 450.5,811.5 448.7,811.6 447.1,811.8 446,812.3" class="t" style="stroke:#777;stroke-width:1.1"/>
<polyline points="479.9,857.8 480.2,857.5 480.4,856.9 480.5,855.9 480.7,854.7 480.8,853.1 481,851.2 481.3,849 481.6,846.5 481.9,843.8 482.2,840.9 482.5,837.8 482.6,834.7 482.6,831.5 482.3,828.4 481.8,825.4 481,822.5 479.9,819.8 478.4,817.4 476.6,815.2 474.5,813.4 472.2,811.8 469.6,810.6 466.9,809.6 464.1,809 461.4,808.6 458.7,808.4 456.3,808.5 454.1,808.8 452.2,809.3 450.6,809.9" class="l" style="stroke-width:1.6"/>
<polyline points="483,856.2 483.3,855.9 483.5,855.3 483.6,854.4 483.8,853.1 483.9,851.5 484.1,849.6 484.4,847.4 484.7,844.9 485,842.2 485.3,839.3 485.6,836.2 485.7,833.1 485.7,829.9 485.4,826.8 484.9,823.8 484.1,820.9 483,818.2 481.5,815.8 479.7,813.6 477.6,811.8 475.3,810.2 472.7,809 470,808 467.2,807.4 464.5,807 461.8,806.9 459.4,806.9 457.2,807.2 455.3,807.7 453.8,808.3" class="t" style="stroke:#777;stroke-width:1.1"/>
<polyline points="493.1,851 493.6,850.6 494.2,849.8 494.9,848.6 495.8,847 496.7,845 497.7,842.7 498.8,840.1 499.7,837.3 500.4,834.3 500.9,831.3 501.1,828.3 500.8,825.4 500,822.6 498.8,820 497.2,817.5 495.1,815.3 492.8,813.2 490.2,811.4 487.5,809.7 484.8,808.1 482.3,806.7 479.9,805.3 477.8,804 476.1,802.9 474.7,801.8 473.5,800.9 472.7,800.1 472,799.6 471.5,799.4 471,799.4" class="l" style="stroke-width:1.6"/>
<polyline points="496.3,849.4 496.8,849 497.4,848.2 498.1,847 498.9,845.4 499.8,843.4 500.9,841.1 501.9,838.5 502.8,835.7 503.6,832.7 504,829.7 504.2,826.7 503.9,823.8 503.1,821 501.9,818.4 500.3,815.9 498.2,813.7 495.9,811.7 493.3,809.8 490.6,808.1 487.9,806.5 485.4,805.1 483,803.7 481,802.4 479.2,801.3 477.8,800.2 476.6,799.3 475.8,798.5 475.1,798 474.6,797.8 474.1,797.9" class="t" style="stroke:#777;stroke-width:1.1"/>
<polyline points="501.4,846.8 501.7,846.5 502,845.8 502.4,844.8 502.8,843.4 503.4,841.6 504.1,839.4 504.8,837 505.6,834.2 506.3,831.3 506.9,828.3 507.2,825.2 507.2,822.1 506.8,819.1 506,816.3 504.7,813.7 503,811.2 500.9,809.1 498.5,807.1 495.8,805.4 493.1,803.9 490.3,802.5 487.7,801.3 485.3,800.2 483.1,799.3 481.3,798.4 479.9,797.6 478.8,797 477.9,796.6 477.4,796.4 477,796.4" class="l" style="stroke-width:1.6"/>
<polyline points="504.5,845.2 504.8,844.9 505.1,844.2 505.5,843.2 505.9,841.8 506.5,840 507.2,837.8 508,835.4 508.7,832.7 509.4,829.7 510,826.7 510.3,823.6 510.3,820.5 510,817.5 509.1,814.7 507.9,812.1 506.1,809.7 504,807.5 501.6,805.5 499,803.8 496.2,802.3 493.5,800.9 490.8,799.7 488.4,798.6 486.2,797.7 484.4,796.8 483,796 481.9,795.4 481.1,795 480.5,794.8 480.1,794.8" class="t" style="stroke:#777;stroke-width:1.1"/>
<ellipse cx="467" cy="835" rx="6" ry="7" class="p"/>
<line x1="517" y1="808" x2="522" y2="801" class="l"/>
<polygon points="403.6,879.2 425.6,868.2 426.3,867.7 427,867 427.5,866.2 427.9,865.1 428.2,864 428.3,862.7 428.3,861.4 428.1,859.9 427.8,858.4 427.4,856.9 426.8,855.4 426.1,853.9 425.4,852.5 424.5,851.1 423.5,849.9 422.5,848.7 421.5,847.8 420.4,846.9 419.3,846.3 418.2,845.8 417.2,845.5 416.2,845.4 415.3,845.5 414.4,845.8 392.4,856.8 391.7,857.3 391,858 390.5,858.8 390.1,859.9 389.8,861 389.7,862.3 389.7,863.6 389.9,865.1 390.2,866.6 390.6,868.1 391.2,869.6 391.9,871.1 392.6,872.5 393.5,873.9 394.5,875.1 395.5,876.3 396.5,877.2 397.6,878.1 398.7,878.7 399.8,879.2 400.8,879.5 401.8,879.6 402.7,879.5 403.6,879.2" class="p"/>
<polyline points="408,877 408.6,876.6 409.1,876.1 409.6,875.5 410,874.8 410.3,873.9 410.5,873 410.7,872.1 410.7,871 410.7,869.9 410.5,868.7 410.3,867.5 410,866.3 409.6,865.1 409.1,863.9 408.5,862.7 407.9,861.6 407.3,860.5 406.5,859.4 405.7,858.4 404.9,857.5 404.1,856.7 403.2,856 402.4,855.4 401.5,854.9 400.6,854.6 399.8,854.3 399,854.2 398.2,854.2 397.5,854.4 396.8,854.6" class="l" style="stroke-width:1.3"/>
<polygon points="386.4,894.4 404.9,883.9 405.9,883.2 406.8,882.2 407.5,881 408,879.7 408.3,878.2 408.5,876.5 408.4,874.7 408.2,872.9 407.7,870.9 407.1,869 406.3,867.1 405.3,865.3 404.2,863.5 403,861.8 401.7,860.3 400.3,858.9 398.8,857.8 397.3,856.8 395.8,856.1 394.3,855.6 392.9,855.3 391.5,855.3 390.3,855.6 389.1,856.1 370.6,866.6 369.6,867.3 368.7,868.3 368,869.5 367.5,870.8 367.2,872.3 367,874 367.1,875.8 367.3,877.6 367.8,879.6 368.4,881.5 369.2,883.4 370.2,885.2 371.3,887 372.5,888.7 373.8,890.2 375.2,891.6 376.7,892.7 378.2,893.7 379.7,894.4 381.2,894.9 382.6,895.2 384,895.2 385.2,894.9 386.4,894.4" class="p"/>
<ellipse cx="378.5" cy="880.5" rx="9.6" ry="16" transform="rotate(-29.6 378.5 880.5)" class="p" />
<ellipse cx="378.5" cy="880.5" rx="3.3" ry="5.5" transform="rotate(-29.6 378.5 880.5)" class="p" />
<polyline points="396.6,888.6 397.4,888.1 398.1,887.4 398.8,886.5 399.3,885.5 399.7,884.4 400,883.2 400.1,881.9 400.2,880.5 400.1,879.1 399.9,877.6 399.5,876.1 399.1,874.5 398.5,873 397.8,871.5 397,870 396.2,868.6 395.2,867.2 394.2,865.9 393.1,864.7 392,863.7 390.8,862.7 389.6,861.9 388.4,861.2 387.2,860.7 386,860.3 384.9,860.1 383.7,860 382.7,860.1 381.7,860.4 380.8,860.8" class="t" style="stroke:#777;stroke-width:3"/>
<path d="M373,866 l9,-4 l3,5 l-9,4" class="t"/>
<polygon points="564.9,818 571.9,814 573.7,812.7 575.1,810.8 576.2,808.5 577,805.8 577.4,802.8 577.4,799.4 577,795.8 576.2,792 575.1,788 573.6,784 571.8,780 569.8,776.1 567.4,772.3 564.9,768.7 562.2,765.4 559.3,762.4 556.4,759.8 553.5,757.7 550.6,755.9 547.8,754.7 545.1,754 542.5,753.8 540.2,754.1 538.1,755 531.1,759 529.3,760.3 527.9,762.2 526.8,764.5 526,767.2 525.6,770.2 525.6,773.6 526,777.2 526.8,781 527.9,785 529.4,789 531.2,793 533.2,796.9 535.6,800.7 538.1,804.3 540.8,807.6 543.7,810.6 546.6,813.2 549.5,815.3 552.4,817.1 555.2,818.3 557.9,819 560.5,819.2 562.8,818.9 564.9,818" class="p"/>
<ellipse cx="548" cy="788.5" rx="17" ry="34" transform="rotate(-29.7 548 788.5)" class="p" />
<ellipse cx="547.5" cy="789" rx="15.2" ry="30.5" transform="rotate(-29.7 547.5 789)" class="t" style="stroke:#555;stroke-width:1.3" />
<ellipse cx="548" cy="788.5" rx="13.5" ry="27" transform="rotate(-29.7 548 788.5)" class="l" />
<ellipse cx="548.5" cy="788.5" rx="11.5" ry="23" transform="rotate(-29.7 548.5 788.5)" class="l" />
<ellipse cx="549" cy="788" rx="10" ry="20" transform="rotate(-29.7 549 788)" class="t" style="stroke:#888;stroke-width:2.4" />
<polyline points="563.4,799.3 562.3,799.7 561.2,799.9 559.9,799.8 558.6,799.4 557.1,798.8 555.7,797.9 554.2,796.9 552.8,795.6 551.4,794.1 550,792.4 548.7,790.6 547.6,788.7 546.5,786.8 545.6,784.8 544.9,782.8 544.3,780.8 544,778.9 543.8,777.1 543.8,775.4 544,773.9 544.3,772.5 544.9,771.4 545.6,770.4 546.5,769.8" class="l"/>
<path d="M585.5,729.9 C588,726 591,724.5 594,726 C598,729 601,731 604.2,732.2 C607,732 610,731 612.3,731.7 C615,733 617,736 617,736.3 C618,739 619,741 619.3,741.6 C621,740 622.5,739.5 623.4,739.8 C626,741 627,743 626.9,743.3 C627,745 627,747 626.3,747.4 C625,749 624,749.5 623.4,749.7 C624,752 625,753 625.7,753.8 C628,755 630,756 631,757.3 C632,759 632,761 631,762 C629,764 628,764 626.9,764.3 C625,766 624,768 624,769.6 C624,773 625,777 624.6,780.6 C623,784 621,786 618.7,785.3 C615,783 611,780 607.7,778.3 C603,778 599,778.5 595.4,778.3 C594,777 593,775 592.5,774.2 C589,770 586,766 584.3,762.6 C583,759 582.5,756 582,753.8 C580,752 579,750 579.1,749.2 C579,747 580,745 582,744.5 C584,743 586,741 586.7,740.4 C586,738 585.5,736 585.5,734.6 Z" class="p"/>
<ellipse cx="596.3" cy="758.8" rx="12.5" ry="19.5" transform="rotate(-22 596.3 758.8)" class="p"/>
<path d="M600,740 C612,748 612,768 604,778" fill="none" stroke="#1e1e1e" stroke-width="1.8"/>
<path d="M604,740 C616,748 616,768 608,778" fill="none" stroke="#777" stroke-width="1.2"/>
<path d="M608,740 C620,748 620,768 612,778" fill="none" stroke="#1e1e1e" stroke-width="1.6"/>
<ellipse cx="596" cy="762" rx="3" ry="5" transform="rotate(-25 596 762)" class="l"/>
<path d="M594,744 C592,748 595,752 594,756" class="t"/>
<path d="M590,733 C595,737 602,740 610,737 C614,745 618,755 620,765 C619,772 620,777 619,782" fill="none" stroke="#777" stroke-width="1.1"/>
<polygon points="665.2,725.9 677.7,718.9 678,718.7 678.2,718.5 678.4,718.2 678.5,717.8 678.6,717.4 678.7,717 678.6,716.6 678.6,716.1 678.5,715.6 678.3,715.1 678.1,714.6 677.9,714.1 677.6,713.7 677.3,713.2 676.9,712.9 676.6,712.5 676.2,712.2 675.8,711.9 675.4,711.8 675.1,711.6 674.7,711.6 674.4,711.6 674,711.6 673.7,711.7 661.2,718.7 660.9,718.9 660.7,719.2 660.5,719.5 660.4,719.8 660.3,720.2 660.3,720.6 660.3,721.1 660.3,721.5 660.5,722 660.6,722.5 660.8,723 661.1,723.5 661.3,724 661.6,724.4 662,724.8 662.3,725.1 662.7,725.4 663.1,725.7 663.5,725.9 663.9,726 664.2,726.1 664.6,726.1 664.9,726 665.2,725.9" class="p"/>
<polygon points="641.4,738.9 665.1,725.7 665.3,725.5 665.6,725.3 665.7,725 665.9,724.7 666,724.3 666,723.9 666,723.5 665.9,723 665.8,722.6 665.7,722.1 665.5,721.6 665.2,721.2 665,720.7 664.7,720.3 664.4,719.9 664,719.6 663.7,719.3 663.3,719.1 662.9,718.9 662.6,718.8 662.2,718.7 661.9,718.7 661.6,718.8 661.3,718.9 637.6,732.1 637.4,732.3 637.1,732.5 637,732.8 636.8,733.1 636.7,733.5 636.7,733.9 636.7,734.3 636.8,734.8 636.9,735.2 637,735.7 637.2,736.2 637.5,736.6 637.7,737.1 638,737.5 638.3,737.9 638.7,738.2 639,738.5 639.4,738.7 639.8,738.9 640.1,739 640.5,739.1 640.8,739.1 641.1,739 641.4,738.9" class="g2"/>
<ellipse cx="639.5" cy="735.5" rx="2.3" ry="3.9" transform="rotate(-29.1 639.5 735.5)" class="g2" />
<line x1="641.7" y1="734.3" x2="662.8" y2="722.5" stroke="#777" stroke-width="5.1" stroke-dasharray="1.1 1.3"/>
<polygon points="675.4,706.9 668.4,710.8 667.9,711.2 667.6,711.6 667.3,712.1 667,712.7 666.9,713.4 666.9,714.2 666.9,715 667.1,715.9 667.3,716.7 667.6,717.6 668,718.5 668.4,719.4 668.9,720.2 669.5,721 670.1,721.8 670.7,722.4 671.4,723 672,723.4 672.7,723.8 673.4,724.1 674,724.2 674.6,724.2 675.2,724.2 675.7,723.9 682.6,720.1 683.1,719.7 683.5,719.3 683.8,718.8 684,718.2 684.1,717.5 684.1,716.7 684.1,715.9 683.9,715 683.7,714.2 683.4,713.3 683,712.4 682.6,711.5 682.1,710.7 681.5,709.9 680.9,709.1 680.3,708.5 679.6,707.9 679,707.4 678.3,707.1 677.6,706.8 677,706.7 676.4,706.7 675.9,706.7 675.4,706.9" class="p"/>
<ellipse cx="679" cy="713.5" rx="4.1" ry="7.5" transform="rotate(150.9 679 713.5)" class="p" />
<ellipse cx="679" cy="713.5" rx="2.1" ry="3.8" transform="rotate(150.9 679 713.5)" class="p" />
<path d="M704,687.5 C706,684 709,681.5 712.5,681 L722,684 C728,686 731,691 729,698 C727,703 724,705 721,704.5 C716,702 709,696 704,687.5 Z" class="p"/>
<ellipse cx="720.5" cy="696" rx="4" ry="5" transform="rotate(-20 720.5 696)" class="p"/>
<ellipse cx="721" cy="696.5" rx="2" ry="2.8" fill="#666"/>
<polyline points="712.5,681 714,686 723,690" class="t"/>
<polygon points="743,689.2 756.7,680.5 756.9,680.3 757.1,680.1 757.3,679.8 757.4,679.5 757.4,679.1 757.4,678.7 757.4,678.3 757.3,677.9 757.2,677.4 757,677 756.8,676.5 756.6,676.1 756.3,675.7 756,675.3 755.6,675 755.3,674.7 754.9,674.4 754.5,674.2 754.2,674 753.8,673.9 753.5,673.9 753.2,673.9 752.9,674 752.6,674.1 739,682.8 738.7,683 738.5,683.2 738.4,683.5 738.3,683.8 738.2,684.2 738.2,684.6 738.2,685 738.3,685.5 738.4,685.9 738.6,686.4 738.8,686.8 739.1,687.2 739.4,687.6 739.7,688 740,688.4 740.4,688.7 740.7,688.9 741.1,689.1 741.4,689.3 741.8,689.4 742.1,689.4 742.5,689.4 742.8,689.3 743,689.2" class="g2"/>
<ellipse cx="741" cy="686" rx="2.3" ry="3.8" transform="rotate(-32.5 741 686)" class="g2" />
<line x1="743.1" y1="684.7" x2="754.2" y2="677.6" stroke="#777" stroke-width="4.9" stroke-dasharray="1.1 1.3"/>
<polygon points="753.8,669.8 748.8,673 748.4,673.3 748.1,673.7 747.9,674.2 747.7,674.8 747.6,675.4 747.6,676.1 747.7,676.8 747.9,677.6 748.1,678.4 748.4,679.2 748.8,680 749.3,680.7 749.8,681.5 750.3,682.1 750.9,682.8 751.5,683.3 752.2,683.8 752.8,684.2 753.4,684.5 754,684.7 754.6,684.8 755.1,684.8 755.6,684.7 756.1,684.5 761.2,681.2 761.5,680.9 761.8,680.5 762.1,680 762.2,679.5 762.3,678.8 762.3,678.1 762.2,677.4 762.1,676.6 761.8,675.8 761.5,675 761.1,674.3 760.7,673.5 760.2,672.8 759.6,672.1 759,671.4 758.4,670.9 757.8,670.4 757.1,670 756.5,669.7 755.9,669.5 755.3,669.4 754.8,669.4 754.3,669.6 753.8,669.8" class="p"/>
<ellipse cx="757.5" cy="675.5" rx="3.7" ry="6.8" transform="rotate(147.5 757.5 675.5)" class="p" />
<ellipse cx="757.5" cy="675.5" rx="1.9" ry="3.4" transform="rotate(147.5 757.5 675.5)" class="p" />
<path d="M759,834 C757,826 758,818 762,813 C765,810 770,812 769,818" class="l"/>
<ellipse cx="762" cy="836" rx="9" ry="3.2" transform="rotate(-20 762 836)" fill="none" stroke="#1e1e1e" stroke-width="1.8"/>
<ellipse cx="763.4" cy="839.3" rx="9" ry="3.2" transform="rotate(-20 763.4 839.3)" fill="none" stroke="#1e1e1e" stroke-width="1.8"/>
<ellipse cx="764.8" cy="842.6" rx="9" ry="3.2" transform="rotate(-20 764.8 842.6)" fill="none" stroke="#1e1e1e" stroke-width="1.8"/>
<ellipse cx="766.2" cy="845.9" rx="9" ry="3.2" transform="rotate(-20 766.2 845.9)" fill="none" stroke="#1e1e1e" stroke-width="1.8"/>
<ellipse cx="767.6" cy="849.2" rx="9" ry="3.2" transform="rotate(-20 767.6 849.2)" fill="none" stroke="#1e1e1e" stroke-width="1.8"/>
<ellipse cx="769" cy="852.5" rx="9" ry="3.2" transform="rotate(-20 769 852.5)" fill="none" stroke="#1e1e1e" stroke-width="1.8"/>
<ellipse cx="770.4" cy="855.8" rx="9" ry="3.2" transform="rotate(-20 770.4 855.8)" fill="none" stroke="#1e1e1e" stroke-width="1.8"/>
<ellipse cx="771.8" cy="859.1" rx="9" ry="3.2" transform="rotate(-20 771.8 859.1)" fill="none" stroke="#1e1e1e" stroke-width="1.8"/>
<ellipse cx="773.2" cy="862.4" rx="9" ry="3.2" transform="rotate(-20 773.2 862.4)" fill="none" stroke="#1e1e1e" stroke-width="1.8"/>
<ellipse cx="774.6" cy="865.7" rx="9" ry="3.2" transform="rotate(-20 774.6 865.7)" fill="none" stroke="#1e1e1e" stroke-width="1.8"/>
<path d="M768,866 C764,869 765,875 770,875 C774,875 776,871 774,867" class="l"/>
<polygon points="725.6,846.1 735.6,840.6 736.1,840.2 736.5,839.8 736.8,839.2 737.1,838.6 737.3,837.9 737.3,837.1 737.3,836.3 737.2,835.4 737,834.5 736.7,833.6 736.4,832.7 735.9,831.8 735.4,831 734.9,830.2 734.3,829.5 733.6,828.8 732.9,828.3 732.2,827.8 731.5,827.5 730.8,827.2 730.2,827.1 729.5,827.1 728.9,827.2 728.4,827.4 718.4,832.9 717.9,833.3 717.5,833.7 717.2,834.3 716.9,834.9 716.7,835.6 716.7,836.4 716.7,837.2 716.8,838.1 717,839 717.3,839.9 717.6,840.8 718.1,841.7 718.6,842.5 719.1,843.3 719.7,844 720.4,844.7 721.1,845.2 721.8,845.7 722.5,846 723.2,846.3 723.8,846.4 724.5,846.4 725.1,846.3 725.6,846.1" class="p"/>
<ellipse cx="722" cy="839.5" rx="4.5" ry="7.5" transform="rotate(-28.8 722 839.5)" class="p" />
<ellipse cx="722" cy="839.5" rx="2.4" ry="4" transform="rotate(-28.8 722 839.5)" class="p" />
<ellipse cx="698.75" cy="853.75" rx="9" ry="12" transform="rotate(-30 698.75 853.75)" class="p"/>
<ellipse cx="699.5" cy="853.5" rx="3" ry="4" fill="#999" stroke="#333" stroke-width="1.1"/>
<polygon points="788.1,807.6 813.6,793.7 813.8,793.5 814,793.3 814.2,793 814.4,792.7 814.4,792.3 814.5,791.9 814.5,791.5 814.4,791 814.3,790.6 814.2,790.1 814,789.6 813.8,789.2 813.5,788.7 813.2,788.3 812.9,788 812.6,787.6 812.2,787.3 811.8,787.1 811.5,786.9 811.1,786.8 810.8,786.7 810.4,786.7 810.1,786.8 809.8,786.9 784.4,800.8 784.1,801 783.9,801.2 783.7,801.5 783.6,801.8 783.5,802.2 783.5,802.6 783.5,803 783.5,803.5 783.6,803.9 783.8,804.4 784,804.9 784.2,805.3 784.5,805.8 784.8,806.2 785.1,806.5 785.4,806.9 785.8,807.2 786.1,807.4 786.5,807.6 786.8,807.7 787.2,807.8 787.5,807.8 787.8,807.7 788.1,807.6" class="g2"/>
<ellipse cx="786.2" cy="804.2" rx="2.3" ry="3.9" transform="rotate(-28.6 786.2 804.2)" class="g2" />
<line x1="788.4" y1="803" x2="811.3" y2="790.5" stroke="#777" stroke-width="5.1" stroke-dasharray="1.1 1.3"/>
<ellipse cx="815" cy="788.5" rx="7.1" ry="7.5" class="p"/>
<ellipse cx="815.8" cy="788.2" rx="4.5" ry="5.1" fill="none" stroke="#888" stroke-width="1.6"/>
<polygon points="856.6,914.8 868.8,907.9 869,907.7 869.2,907.5 869.4,907.2 869.6,906.8 869.6,906.4 869.7,906 869.7,905.6 869.6,905.1 869.5,904.6 869.3,904.1 869.1,903.6 868.9,903.1 868.6,902.7 868.3,902.3 867.9,901.9 867.6,901.5 867.2,901.2 866.8,901 866.4,900.8 866.1,900.7 865.7,900.6 865.3,900.6 865,900.7 864.7,900.8 852.6,907.7 852.3,907.9 852.1,908.1 851.9,908.4 851.8,908.8 851.7,909.2 851.7,909.6 851.7,910 851.7,910.5 851.9,911 852,911.5 852.2,912 852.5,912.5 852.7,912.9 853.1,913.3 853.4,913.7 853.8,914.1 854.1,914.4 854.5,914.6 854.9,914.8 855.3,914.9 855.7,915 856,915 856.3,914.9 856.6,914.8" class="p"/>
<polygon points="827.9,930.9 856.5,914.6 856.8,914.5 857,914.2 857.2,913.9 857.3,913.6 857.4,913.2 857.4,912.8 857.4,912.4 857.3,911.9 857.2,911.5 857.1,911 856.9,910.5 856.6,910.1 856.4,909.7 856.1,909.3 855.7,908.9 855.4,908.6 855,908.3 854.7,908 854.3,907.9 853.9,907.7 853.6,907.7 853.3,907.7 853,907.7 852.7,907.9 824.1,924.1 823.8,924.3 823.6,924.5 823.4,924.8 823.3,925.1 823.2,925.5 823.2,925.9 823.2,926.4 823.3,926.8 823.4,927.3 823.5,927.7 823.7,928.2 824,928.7 824.2,929.1 824.5,929.5 824.9,929.9 825.2,930.2 825.6,930.5 825.9,930.7 826.3,930.9 826.7,931 827,931.1 827.3,931.1 827.6,931 827.9,930.9" class="g2"/>
<ellipse cx="826" cy="927.5" rx="2.3" ry="3.9" transform="rotate(-29.6 826 927.5)" class="g2" />
<line x1="828.2" y1="926.3" x2="854.2" y2="911.5" stroke="#777" stroke-width="5.1" stroke-dasharray="1.1 1.3"/>
<ellipse cx="870" cy="902.5" rx="7.1" ry="7.5" class="p"/>
<ellipse cx="870.8" cy="902.2" rx="4.5" ry="5.1" fill="none" stroke="#888" stroke-width="1.6"/>
<ellipse cx="797.5" cy="944" rx="9" ry="12" transform="rotate(-30 797.5 944)" class="p"/>
<ellipse cx="798" cy="943.5" rx="3" ry="4" fill="#999" stroke="#333" stroke-width="1.1"/>
<path d="M746.9,946.9 C745.5,952 745.4,956 745.6,958.75 C745.5,964 745.8,968 746.25,971.25 C748,975 750,977 751.9,978.1 C756,980 759,980.5 762.5,981.25 C768,982 774,983 779.4,983.75 C781,984 783,984 784.4,983.75 C786,983 787,981 786.9,979.4 C786,978 785,976.5 784.4,976.25 C780,975 776,974.5 772.5,973.75 C769,972 767,971 765.6,970 C763,967 761,963 760,960 C758,953 757,946 756.25,941.25 Z" class="p"/>
<polyline points="757,947 759,960 764,968 772,972 785,976" class="x" fill="none" stroke="#888" stroke-width="1.5"/>
<ellipse cx="746" cy="936" rx="9" ry="10.6" transform="rotate(-25 746 936)" class="p"/>
<ellipse cx="744.7" cy="938.5" rx="5.3" ry="6.9" transform="rotate(-25 744.7 938.5)" class="p"/>
<ellipse cx="754.7" cy="968.75" rx="4.5" ry="7" transform="rotate(-25 754.7 968.75)" class="p"/>
<polygon points="721.6,1004.7 726.6,1002.2 727.3,1001.7 728,1001 728.5,1000.2 728.9,999.1 729.2,998 729.3,996.7 729.3,995.4 729.1,993.9 728.8,992.4 728.4,990.9 727.8,989.4 727.1,987.9 726.4,986.5 725.5,985.1 724.5,983.9 723.5,982.7 722.5,981.8 721.4,980.9 720.3,980.3 719.2,979.8 718.2,979.5 717.2,979.4 716.3,979.5 715.4,979.8 710.4,982.3 709.7,982.8 709,983.5 708.5,984.3 708.1,985.4 707.8,986.5 707.7,987.8 707.7,989.1 707.9,990.6 708.2,992.1 708.6,993.6 709.2,995.1 709.9,996.6 710.6,998 711.5,999.4 712.5,1000.6 713.5,1001.8 714.5,1002.7 715.6,1003.6 716.7,1004.2 717.8,1004.7 718.8,1005 719.8,1005.1 720.7,1005 721.6,1004.7" class="p"/>
<ellipse cx="716" cy="993.5" rx="7" ry="12.5" transform="rotate(-28 716 993.5)" class="p"/>
<polygon points="701.1,1008.4 720.2,1003.7 711.8,983.3 694.9,993.6" class="p"/>
<ellipse cx="698" cy="1001" rx="5" ry="8.5" transform="rotate(-28 698 1001)" class="p"/>
<ellipse cx="698.5" cy="1001" rx="3" ry="5.5" transform="rotate(-28 698.5 1001)" class="t"/>
<polygon points="320.5,1086.4 331.5,1080.9 332.2,1080.5 332.8,1079.9 333.4,1079.2 333.8,1078.3 334.1,1077.3 334.3,1076.3 334.3,1075.1 334.3,1074 334.1,1072.7 333.8,1071.5 333.3,1070.3 332.8,1069.1 332.2,1068 331.5,1066.9 330.7,1065.9 329.8,1065 328.9,1064.2 327.9,1063.6 327,1063.1 326,1062.8 325.1,1062.6 324.2,1062.6 323.3,1062.8 322.5,1063.1 311.5,1068.6 310.8,1069 310.2,1069.6 309.6,1070.3 309.2,1071.2 308.9,1072.2 308.7,1073.2 308.7,1074.4 308.7,1075.5 308.9,1076.8 309.2,1078 309.7,1079.2 310.2,1080.4 310.8,1081.5 311.5,1082.6 312.3,1083.6 313.2,1084.5 314.1,1085.3 315.1,1085.9 316,1086.4 317,1086.7 317.9,1086.9 318.8,1086.9 319.7,1086.7 320.5,1086.4" class="g"/>
<polygon points="316.6,1091.2 321.6,1088.7 322.5,1088.1 323.3,1087.4 323.9,1086.4 324.5,1085.4 324.9,1084.2 325.1,1082.8 325.2,1081.4 325.1,1079.9 324.9,1078.4 324.5,1076.9 323.9,1075.4 323.3,1073.9 322.5,1072.4 321.6,1071.1 320.6,1069.9 319.5,1068.8 318.4,1067.8 317.2,1067 316,1066.4 314.8,1066 313.6,1065.8 312.5,1065.8 311.4,1065.9 310.4,1066.3 305.4,1068.8 304.5,1069.4 303.7,1070.1 303.1,1071.1 302.5,1072.1 302.1,1073.3 301.9,1074.7 301.8,1076.1 301.9,1077.6 302.1,1079.1 302.5,1080.6 303.1,1082.1 303.7,1083.6 304.5,1085.1 305.4,1086.4 306.4,1087.6 307.5,1088.7 308.6,1089.7 309.8,1090.5 311,1091.1 312.2,1091.5 313.4,1091.7 314.5,1091.7 315.6,1091.6 316.6,1091.2" class="p"/>
<ellipse cx="311" cy="1080" rx="8.1" ry="12.5" transform="rotate(-26.6 311 1080)" class="p" />
<ellipse cx="311" cy="1080" rx="3.8" ry="4.6" class="t" style="stroke-width:1.3"/>
<line x1="248" y1="211" x2="272" y2="243" class="ld"/>
<line x1="455" y1="152" x2="476" y2="185" class="ld"/>
<line x1="627.5" y1="129.5" x2="650" y2="160" class="ld"/>
<line x1="298.8" y1="176" x2="323.8" y2="208.8" class="ld"/>
<line x1="875.5" y1="190" x2="900" y2="222.5" class="ld"/>
<line x1="460" y1="267.5" x2="483.8" y2="300" class="ld"/>
<line x1="932.5" y1="85" x2="956" y2="117.5" class="ld"/>
<line x1="448.8" y1="360.5" x2="507.5" y2="375" class="ld"/>
<line x1="687.5" y1="457.5" x2="715" y2="489" class="ld"/>
<line x1="561" y1="494" x2="586" y2="527.5" class="ld"/>
<line x1="445" y1="501" x2="458.8" y2="518.8" class="ld"/>
<line x1="407.5" y1="525" x2="420" y2="540" class="ld"/>
<line x1="264.5" y1="535" x2="252.5" y2="638.8" class="ld"/>
<line x1="264.5" y1="535" x2="281" y2="577.5" class="ld"/>
<line x1="370" y1="601" x2="392.5" y2="631" class="ld"/>
<line x1="947.5" y1="407.5" x2="963.8" y2="422.5" class="ld"/>
<line x1="910" y1="421.2" x2="912.5" y2="452.5" class="ld"/>
<line x1="910" y1="421.2" x2="940" y2="437.5" class="ld"/>
<line x1="556" y1="629.5" x2="575.5" y2="649" class="ld"/>
<line x1="505" y1="653.5" x2="496" y2="698.5" class="ld"/>
<line x1="505" y1="653.5" x2="536.5" y2="673" class="ld"/>
<line x1="505" y1="653.5" x2="556" y2="659.5" class="ld"/>
<line x1="529" y1="700" x2="559" y2="700" class="ld"/>
<line x1="404" y1="762.5" x2="426" y2="746" class="ld"/>
<line x1="670" y1="727" x2="695.5" y2="760" class="ld"/>
<line x1="626.5" y1="763" x2="640" y2="790" class="ld"/>
<line x1="726" y1="704" x2="750" y2="735" class="ld"/>
<line x1="761" y1="685" x2="785" y2="716" class="ld"/>
<line x1="741" y1="797.5" x2="756" y2="814" class="ld"/>
<line x1="710" y1="820" x2="721" y2="834" class="ld"/>
<line x1="707.5" y1="865" x2="724" y2="886" class="ld"/>
<line x1="807.5" y1="801" x2="831" y2="832.5" class="ld"/>
<line x1="566.5" y1="820.5" x2="589" y2="850" class="ld"/>
<line x1="362.5" y1="829" x2="386" y2="861" class="ld"/>
<line x1="252.5" y1="889" x2="276" y2="920" class="ld"/>
<line x1="852.5" y1="920" x2="875" y2="951" class="ld"/>
<line x1="805" y1="955" x2="831" y2="987.5" class="ld"/>
<line x1="784" y1="984" x2="807.5" y2="1019" class="ld"/>
<line x1="720" y1="1002.5" x2="745" y2="1035" class="ld"/>
<line x1="507.5" y1="982.5" x2="530" y2="1011" class="ld"/>
<line x1="370" y1="1062.5" x2="391" y2="1092.5" class="ld"/>
<line x1="324" y1="1089" x2="346" y2="1120" class="ld"/>
<text x="238.5" y="206.9">31</text>
<text x="447" y="147.4">32</text>
<text x="617" y="126.4">33</text>
<text x="289.5" y="171.9">34</text>
<text x="907.8" y="243.4">35</text>
<text x="496" y="314.9">36</text>
<text x="966" y="134.4">37</text>
<text x="436" y="363.9">38</text>
<text x="674.4" y="453.1">15</text>
<text x="550" y="488.4">14</text>
<text x="438" y="498.9">7</text>
<text x="395.5" y="521.9">13</text>
<text x="264" y="527.9">12</text>
<text x="366.8" y="596.9">11</text>
<text x="937" y="405.9">16</text>
<text x="898.8" y="420.9">17</text>
<text x="544.8" y="628.9">16</text>
<text x="489.2" y="655.9">17</text>
<text x="572.5" y="707.9">22</text>
<text x="389.5" y="773.1">21</text>
<text x="698" y="775.4">5</text>
<text x="642" y="805.9">4</text>
<text x="757.5" y="750.4">6</text>
<text x="790" y="732.4">7</text>
<text x="734.4" y="794.4">28</text>
<text x="695.5" y="819.4">29</text>
<text x="843" y="848.4">27</text>
<text x="734.5" y="903.4">30</text>
<text x="595" y="868.9">2</text>
<text x="357" y="823.9">1</text>
<text x="242.5" y="883.9">3</text>
<text x="886.8" y="970.4">23</text>
<text x="843" y="1003.4">24</text>
<text x="820.5" y="1034.4">25</text>
<text x="755" y="1051.9">26</text>
<text x="536" y="1028.9">8</text>
<text x="399" y="1110.4">9</text>
<text x="356.8" y="1136.9">10</text>
</svg></body></html>
